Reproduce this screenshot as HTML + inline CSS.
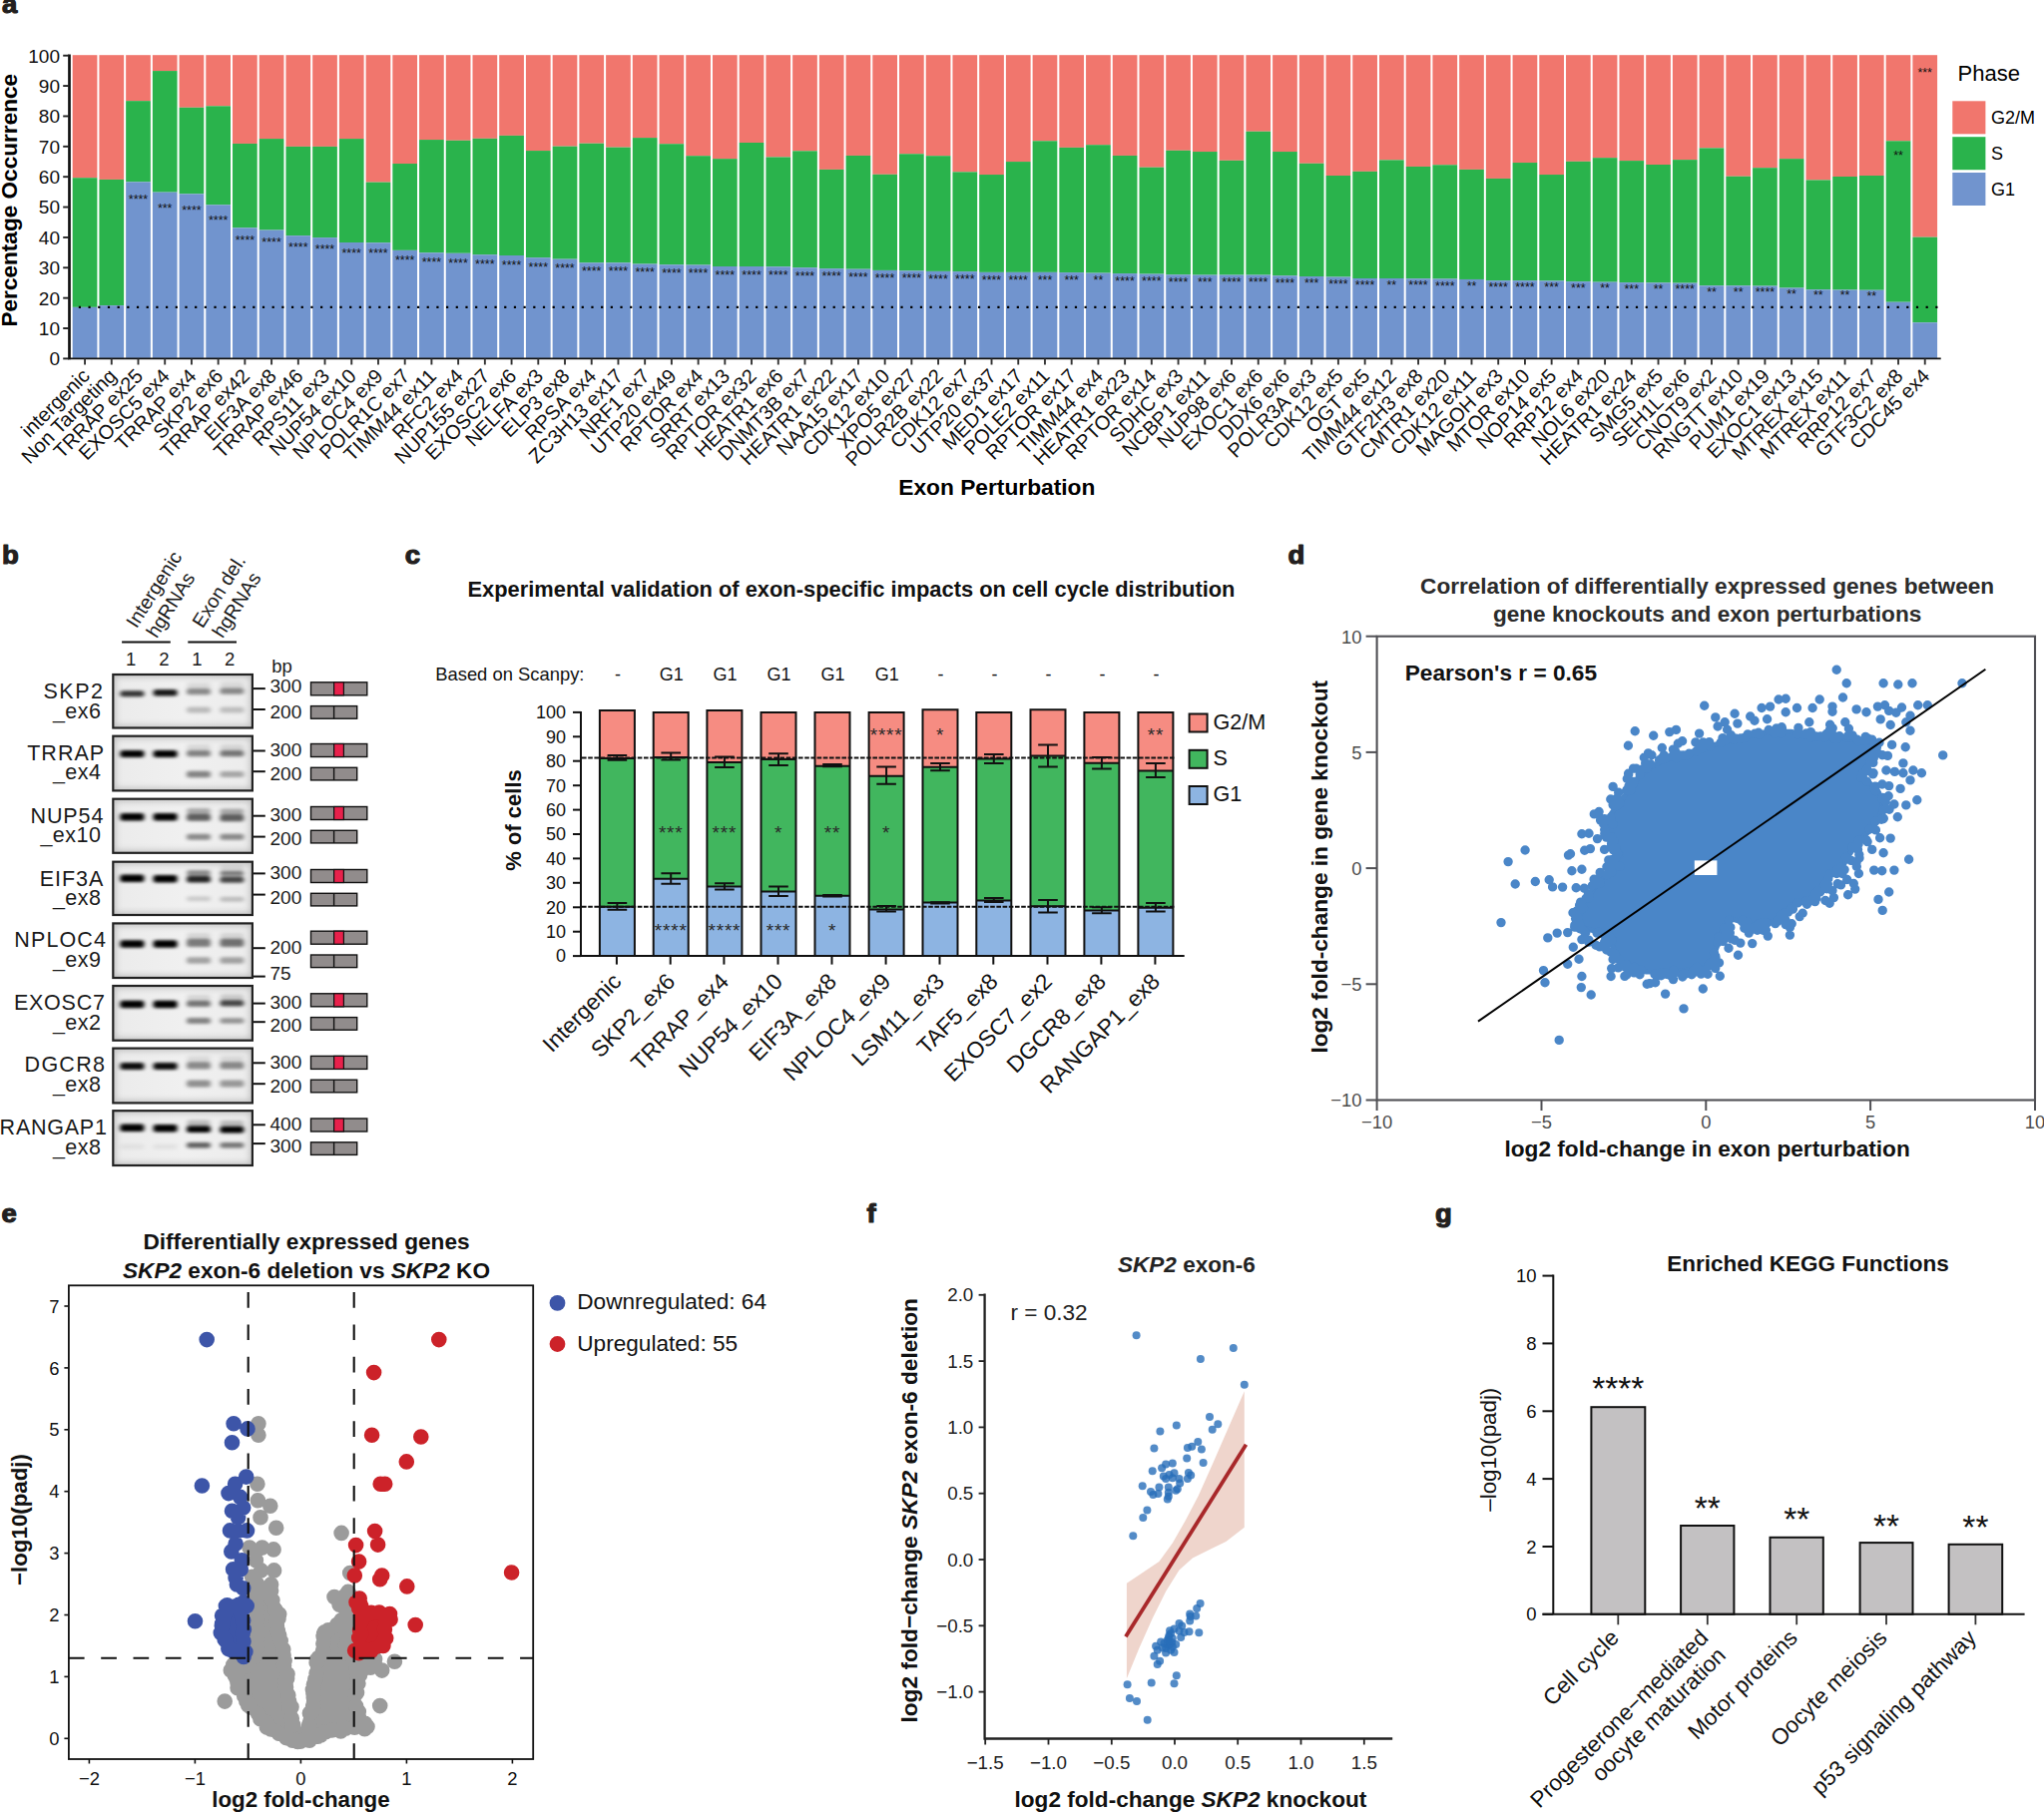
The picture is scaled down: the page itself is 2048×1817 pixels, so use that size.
<!DOCTYPE html>
<html><head><meta charset="utf-8"><title>Figure</title>
<style>
html,body{margin:0;padding:0;background:#fff;overflow:hidden;}
svg{display:block;font-family:"Liberation Sans",sans-serif;}
</style></head><body>
<svg width="2048" height="1817" viewBox="0 0 2048 1817">
<rect width="2048" height="1817" fill="#fff"/>
<g id="pa">
<rect x="72.70" y="55.2" width="24.7" height="123.01" fill="#F1766D"/>
<rect x="72.70" y="178.21" width="24.7" height="129.65" fill="#2AB34C"/>
<rect x="72.70" y="307.86" width="24.7" height="51.04" fill="#7194CE"/>
<rect x="99.42" y="55.2" width="24.7" height="124.72" fill="#F1766D"/>
<rect x="99.42" y="179.92" width="24.7" height="126.22" fill="#2AB34C"/>
<rect x="99.42" y="306.14" width="24.7" height="52.76" fill="#7194CE"/>
<rect x="126.14" y="55.2" width="24.7" height="45.95" fill="#F1766D"/>
<rect x="126.14" y="101.15" width="24.7" height="81.21" fill="#2AB34C"/>
<rect x="126.14" y="182.37" width="24.7" height="176.53" fill="#7194CE"/>
<rect x="152.86" y="55.2" width="24.7" height="15.87" fill="#F1766D"/>
<rect x="152.86" y="71.07" width="24.7" height="121.58" fill="#2AB34C"/>
<rect x="152.86" y="192.64" width="24.7" height="166.26" fill="#7194CE"/>
<rect x="179.58" y="55.2" width="24.7" height="52.56" fill="#F1766D"/>
<rect x="179.58" y="107.76" width="24.7" height="86.59" fill="#2AB34C"/>
<rect x="179.58" y="194.35" width="24.7" height="164.55" fill="#7194CE"/>
<rect x="206.30" y="55.2" width="24.7" height="51.09" fill="#F1766D"/>
<rect x="206.30" y="106.29" width="24.7" height="99.07" fill="#2AB34C"/>
<rect x="206.30" y="205.36" width="24.7" height="153.54" fill="#7194CE"/>
<rect x="233.02" y="55.2" width="24.7" height="88.76" fill="#F1766D"/>
<rect x="233.02" y="143.96" width="24.7" height="84.39" fill="#2AB34C"/>
<rect x="233.02" y="228.36" width="24.7" height="130.54" fill="#7194CE"/>
<rect x="259.74" y="55.2" width="24.7" height="83.87" fill="#F1766D"/>
<rect x="259.74" y="139.07" width="24.7" height="91.49" fill="#2AB34C"/>
<rect x="259.74" y="230.56" width="24.7" height="128.34" fill="#7194CE"/>
<rect x="286.46" y="55.2" width="24.7" height="91.70" fill="#F1766D"/>
<rect x="286.46" y="146.90" width="24.7" height="89.29" fill="#2AB34C"/>
<rect x="286.46" y="236.18" width="24.7" height="122.72" fill="#7194CE"/>
<rect x="313.18" y="55.2" width="24.7" height="91.70" fill="#F1766D"/>
<rect x="313.18" y="146.90" width="24.7" height="91.24" fill="#2AB34C"/>
<rect x="313.18" y="238.14" width="24.7" height="120.76" fill="#7194CE"/>
<rect x="339.90" y="55.2" width="24.7" height="83.87" fill="#F1766D"/>
<rect x="339.90" y="139.07" width="24.7" height="103.96" fill="#2AB34C"/>
<rect x="339.90" y="243.03" width="24.7" height="115.87" fill="#7194CE"/>
<rect x="366.62" y="55.2" width="24.7" height="127.41" fill="#F1766D"/>
<rect x="366.62" y="182.61" width="24.7" height="60.67" fill="#2AB34C"/>
<rect x="366.62" y="243.28" width="24.7" height="115.62" fill="#7194CE"/>
<rect x="393.34" y="55.2" width="24.7" height="108.82" fill="#F1766D"/>
<rect x="393.34" y="164.02" width="24.7" height="86.84" fill="#2AB34C"/>
<rect x="393.34" y="250.86" width="24.7" height="108.04" fill="#7194CE"/>
<rect x="420.06" y="55.2" width="24.7" height="84.85" fill="#F1766D"/>
<rect x="420.06" y="140.05" width="24.7" height="113.26" fill="#2AB34C"/>
<rect x="420.06" y="253.31" width="24.7" height="105.59" fill="#7194CE"/>
<rect x="446.78" y="55.2" width="24.7" height="85.58" fill="#F1766D"/>
<rect x="446.78" y="140.78" width="24.7" height="113.01" fill="#2AB34C"/>
<rect x="446.78" y="253.80" width="24.7" height="105.10" fill="#7194CE"/>
<rect x="473.50" y="55.2" width="24.7" height="83.63" fill="#F1766D"/>
<rect x="473.50" y="138.83" width="24.7" height="116.44" fill="#2AB34C"/>
<rect x="473.50" y="255.26" width="24.7" height="103.64" fill="#7194CE"/>
<rect x="500.22" y="55.2" width="24.7" height="80.69" fill="#F1766D"/>
<rect x="500.22" y="135.89" width="24.7" height="120.11" fill="#2AB34C"/>
<rect x="500.22" y="256.00" width="24.7" height="102.90" fill="#7194CE"/>
<rect x="526.94" y="55.2" width="24.7" height="95.86" fill="#F1766D"/>
<rect x="526.94" y="151.06" width="24.7" height="107.14" fill="#2AB34C"/>
<rect x="526.94" y="258.20" width="24.7" height="100.70" fill="#7194CE"/>
<rect x="553.66" y="55.2" width="24.7" height="91.45" fill="#F1766D"/>
<rect x="553.66" y="146.65" width="24.7" height="113.01" fill="#2AB34C"/>
<rect x="553.66" y="259.67" width="24.7" height="99.23" fill="#7194CE"/>
<rect x="580.38" y="55.2" width="24.7" height="88.52" fill="#F1766D"/>
<rect x="580.38" y="143.72" width="24.7" height="119.62" fill="#2AB34C"/>
<rect x="580.38" y="263.34" width="24.7" height="95.56" fill="#7194CE"/>
<rect x="607.10" y="55.2" width="24.7" height="92.43" fill="#F1766D"/>
<rect x="607.10" y="147.63" width="24.7" height="115.70" fill="#2AB34C"/>
<rect x="607.10" y="263.34" width="24.7" height="95.56" fill="#7194CE"/>
<rect x="633.82" y="55.2" width="24.7" height="82.89" fill="#F1766D"/>
<rect x="633.82" y="138.09" width="24.7" height="126.47" fill="#2AB34C"/>
<rect x="633.82" y="264.56" width="24.7" height="94.34" fill="#7194CE"/>
<rect x="660.54" y="55.2" width="24.7" height="89.01" fill="#F1766D"/>
<rect x="660.54" y="144.21" width="24.7" height="121.09" fill="#2AB34C"/>
<rect x="660.54" y="265.29" width="24.7" height="93.61" fill="#7194CE"/>
<rect x="687.26" y="55.2" width="24.7" height="100.99" fill="#F1766D"/>
<rect x="687.26" y="156.19" width="24.7" height="109.34" fill="#2AB34C"/>
<rect x="687.26" y="265.54" width="24.7" height="93.36" fill="#7194CE"/>
<rect x="713.98" y="55.2" width="24.7" height="103.93" fill="#F1766D"/>
<rect x="713.98" y="159.13" width="24.7" height="107.88" fill="#2AB34C"/>
<rect x="713.98" y="267.01" width="24.7" height="91.89" fill="#7194CE"/>
<rect x="740.70" y="55.2" width="24.7" height="87.78" fill="#F1766D"/>
<rect x="740.70" y="142.98" width="24.7" height="124.02" fill="#2AB34C"/>
<rect x="740.70" y="267.01" width="24.7" height="91.89" fill="#7194CE"/>
<rect x="767.42" y="55.2" width="24.7" height="102.22" fill="#F1766D"/>
<rect x="767.42" y="157.42" width="24.7" height="109.83" fill="#2AB34C"/>
<rect x="767.42" y="267.25" width="24.7" height="91.65" fill="#7194CE"/>
<rect x="794.14" y="55.2" width="24.7" height="96.10" fill="#F1766D"/>
<rect x="794.14" y="151.30" width="24.7" height="116.93" fill="#2AB34C"/>
<rect x="794.14" y="268.23" width="24.7" height="90.67" fill="#7194CE"/>
<rect x="820.86" y="55.2" width="24.7" height="114.69" fill="#F1766D"/>
<rect x="820.86" y="169.89" width="24.7" height="99.32" fill="#2AB34C"/>
<rect x="820.86" y="269.21" width="24.7" height="89.69" fill="#7194CE"/>
<rect x="847.58" y="55.2" width="24.7" height="100.75" fill="#F1766D"/>
<rect x="847.58" y="155.95" width="24.7" height="113.75" fill="#2AB34C"/>
<rect x="847.58" y="269.70" width="24.7" height="89.20" fill="#7194CE"/>
<rect x="874.30" y="55.2" width="24.7" height="119.58" fill="#F1766D"/>
<rect x="874.30" y="174.78" width="24.7" height="96.14" fill="#2AB34C"/>
<rect x="874.30" y="270.92" width="24.7" height="87.98" fill="#7194CE"/>
<rect x="901.02" y="55.2" width="24.7" height="99.04" fill="#F1766D"/>
<rect x="901.02" y="154.24" width="24.7" height="117.17" fill="#2AB34C"/>
<rect x="901.02" y="271.41" width="24.7" height="87.49" fill="#7194CE"/>
<rect x="927.74" y="55.2" width="24.7" height="100.99" fill="#F1766D"/>
<rect x="927.74" y="156.19" width="24.7" height="115.70" fill="#2AB34C"/>
<rect x="927.74" y="271.90" width="24.7" height="87.00" fill="#7194CE"/>
<rect x="954.46" y="55.2" width="24.7" height="117.14" fill="#F1766D"/>
<rect x="954.46" y="172.34" width="24.7" height="99.80" fill="#2AB34C"/>
<rect x="954.46" y="272.14" width="24.7" height="86.76" fill="#7194CE"/>
<rect x="981.18" y="55.2" width="24.7" height="119.83" fill="#F1766D"/>
<rect x="981.18" y="175.03" width="24.7" height="97.85" fill="#2AB34C"/>
<rect x="981.18" y="272.88" width="24.7" height="86.02" fill="#7194CE"/>
<rect x="1007.90" y="55.2" width="24.7" height="106.86" fill="#F1766D"/>
<rect x="1007.90" y="162.06" width="24.7" height="110.81" fill="#2AB34C"/>
<rect x="1007.90" y="272.88" width="24.7" height="86.02" fill="#7194CE"/>
<rect x="1034.62" y="55.2" width="24.7" height="86.07" fill="#F1766D"/>
<rect x="1034.62" y="141.27" width="24.7" height="131.60" fill="#2AB34C"/>
<rect x="1034.62" y="272.88" width="24.7" height="86.02" fill="#7194CE"/>
<rect x="1061.34" y="55.2" width="24.7" height="92.68" fill="#F1766D"/>
<rect x="1061.34" y="147.88" width="24.7" height="125.24" fill="#2AB34C"/>
<rect x="1061.34" y="273.12" width="24.7" height="85.78" fill="#7194CE"/>
<rect x="1088.06" y="55.2" width="24.7" height="89.99" fill="#F1766D"/>
<rect x="1088.06" y="145.19" width="24.7" height="128.42" fill="#2AB34C"/>
<rect x="1088.06" y="273.61" width="24.7" height="85.29" fill="#7194CE"/>
<rect x="1114.78" y="55.2" width="24.7" height="100.75" fill="#F1766D"/>
<rect x="1114.78" y="155.95" width="24.7" height="118.15" fill="#2AB34C"/>
<rect x="1114.78" y="274.10" width="24.7" height="84.80" fill="#7194CE"/>
<rect x="1141.50" y="55.2" width="24.7" height="112.49" fill="#F1766D"/>
<rect x="1141.50" y="167.69" width="24.7" height="106.90" fill="#2AB34C"/>
<rect x="1141.50" y="274.59" width="24.7" height="84.31" fill="#7194CE"/>
<rect x="1168.22" y="55.2" width="24.7" height="95.61" fill="#F1766D"/>
<rect x="1168.22" y="150.81" width="24.7" height="124.51" fill="#2AB34C"/>
<rect x="1168.22" y="275.32" width="24.7" height="83.58" fill="#7194CE"/>
<rect x="1194.94" y="55.2" width="24.7" height="96.84" fill="#F1766D"/>
<rect x="1194.94" y="152.04" width="24.7" height="123.53" fill="#2AB34C"/>
<rect x="1194.94" y="275.57" width="24.7" height="83.33" fill="#7194CE"/>
<rect x="1221.66" y="55.2" width="24.7" height="105.64" fill="#F1766D"/>
<rect x="1221.66" y="160.84" width="24.7" height="114.73" fill="#2AB34C"/>
<rect x="1221.66" y="275.57" width="24.7" height="83.33" fill="#7194CE"/>
<rect x="1248.38" y="55.2" width="24.7" height="76.53" fill="#F1766D"/>
<rect x="1248.38" y="131.73" width="24.7" height="143.84" fill="#2AB34C"/>
<rect x="1248.38" y="275.57" width="24.7" height="83.33" fill="#7194CE"/>
<rect x="1275.10" y="55.2" width="24.7" height="96.84" fill="#F1766D"/>
<rect x="1275.10" y="152.04" width="24.7" height="124.27" fill="#2AB34C"/>
<rect x="1275.10" y="276.30" width="24.7" height="82.60" fill="#7194CE"/>
<rect x="1301.82" y="55.2" width="24.7" height="108.58" fill="#F1766D"/>
<rect x="1301.82" y="163.78" width="24.7" height="113.26" fill="#2AB34C"/>
<rect x="1301.82" y="277.04" width="24.7" height="81.86" fill="#7194CE"/>
<rect x="1328.54" y="55.2" width="24.7" height="120.81" fill="#F1766D"/>
<rect x="1328.54" y="176.01" width="24.7" height="101.52" fill="#2AB34C"/>
<rect x="1328.54" y="277.52" width="24.7" height="81.38" fill="#7194CE"/>
<rect x="1355.26" y="55.2" width="24.7" height="116.65" fill="#F1766D"/>
<rect x="1355.26" y="171.85" width="24.7" height="107.14" fill="#2AB34C"/>
<rect x="1355.26" y="278.99" width="24.7" height="79.91" fill="#7194CE"/>
<rect x="1381.98" y="55.2" width="24.7" height="105.15" fill="#F1766D"/>
<rect x="1381.98" y="160.35" width="24.7" height="118.64" fill="#2AB34C"/>
<rect x="1381.98" y="278.99" width="24.7" height="79.91" fill="#7194CE"/>
<rect x="1408.70" y="55.2" width="24.7" height="111.76" fill="#F1766D"/>
<rect x="1408.70" y="166.96" width="24.7" height="112.28" fill="#2AB34C"/>
<rect x="1408.70" y="279.24" width="24.7" height="79.66" fill="#7194CE"/>
<rect x="1435.42" y="55.2" width="24.7" height="110.04" fill="#F1766D"/>
<rect x="1435.42" y="165.24" width="24.7" height="114.24" fill="#2AB34C"/>
<rect x="1435.42" y="279.48" width="24.7" height="79.42" fill="#7194CE"/>
<rect x="1462.14" y="55.2" width="24.7" height="114.69" fill="#F1766D"/>
<rect x="1462.14" y="169.89" width="24.7" height="110.08" fill="#2AB34C"/>
<rect x="1462.14" y="279.97" width="24.7" height="78.93" fill="#7194CE"/>
<rect x="1488.86" y="55.2" width="24.7" height="123.74" fill="#F1766D"/>
<rect x="1488.86" y="178.94" width="24.7" height="102.25" fill="#2AB34C"/>
<rect x="1488.86" y="281.19" width="24.7" height="77.71" fill="#7194CE"/>
<rect x="1515.58" y="55.2" width="24.7" height="107.84" fill="#F1766D"/>
<rect x="1515.58" y="163.04" width="24.7" height="118.15" fill="#2AB34C"/>
<rect x="1515.58" y="281.19" width="24.7" height="77.71" fill="#7194CE"/>
<rect x="1542.30" y="55.2" width="24.7" height="119.83" fill="#F1766D"/>
<rect x="1542.30" y="175.03" width="24.7" height="106.41" fill="#2AB34C"/>
<rect x="1542.30" y="281.44" width="24.7" height="77.46" fill="#7194CE"/>
<rect x="1569.02" y="55.2" width="24.7" height="106.62" fill="#F1766D"/>
<rect x="1569.02" y="161.82" width="24.7" height="120.35" fill="#2AB34C"/>
<rect x="1569.02" y="282.17" width="24.7" height="76.73" fill="#7194CE"/>
<rect x="1595.74" y="55.2" width="24.7" height="102.95" fill="#F1766D"/>
<rect x="1595.74" y="158.15" width="24.7" height="124.51" fill="#2AB34C"/>
<rect x="1595.74" y="282.66" width="24.7" height="76.24" fill="#7194CE"/>
<rect x="1622.46" y="55.2" width="24.7" height="105.89" fill="#F1766D"/>
<rect x="1622.46" y="161.09" width="24.7" height="122.06" fill="#2AB34C"/>
<rect x="1622.46" y="283.15" width="24.7" height="75.75" fill="#7194CE"/>
<rect x="1649.18" y="55.2" width="24.7" height="109.80" fill="#F1766D"/>
<rect x="1649.18" y="165.00" width="24.7" height="118.40" fill="#2AB34C"/>
<rect x="1649.18" y="283.40" width="24.7" height="75.50" fill="#7194CE"/>
<rect x="1675.90" y="55.2" width="24.7" height="104.91" fill="#F1766D"/>
<rect x="1675.90" y="160.11" width="24.7" height="123.53" fill="#2AB34C"/>
<rect x="1675.90" y="283.64" width="24.7" height="75.26" fill="#7194CE"/>
<rect x="1702.62" y="55.2" width="24.7" height="93.17" fill="#F1766D"/>
<rect x="1702.62" y="148.37" width="24.7" height="137.96" fill="#2AB34C"/>
<rect x="1702.62" y="286.33" width="24.7" height="72.57" fill="#7194CE"/>
<rect x="1729.34" y="55.2" width="24.7" height="121.54" fill="#F1766D"/>
<rect x="1729.34" y="176.74" width="24.7" height="109.59" fill="#2AB34C"/>
<rect x="1729.34" y="286.33" width="24.7" height="72.57" fill="#7194CE"/>
<rect x="1756.06" y="55.2" width="24.7" height="112.98" fill="#F1766D"/>
<rect x="1756.06" y="168.18" width="24.7" height="118.40" fill="#2AB34C"/>
<rect x="1756.06" y="286.58" width="24.7" height="72.32" fill="#7194CE"/>
<rect x="1782.78" y="55.2" width="24.7" height="103.93" fill="#F1766D"/>
<rect x="1782.78" y="159.13" width="24.7" height="129.40" fill="#2AB34C"/>
<rect x="1782.78" y="288.53" width="24.7" height="70.37" fill="#7194CE"/>
<rect x="1809.50" y="55.2" width="24.7" height="125.21" fill="#F1766D"/>
<rect x="1809.50" y="180.41" width="24.7" height="109.83" fill="#2AB34C"/>
<rect x="1809.50" y="290.24" width="24.7" height="68.66" fill="#7194CE"/>
<rect x="1836.22" y="55.2" width="24.7" height="121.79" fill="#F1766D"/>
<rect x="1836.22" y="176.99" width="24.7" height="113.50" fill="#2AB34C"/>
<rect x="1836.22" y="290.49" width="24.7" height="68.41" fill="#7194CE"/>
<rect x="1862.94" y="55.2" width="24.7" height="120.81" fill="#F1766D"/>
<rect x="1862.94" y="176.01" width="24.7" height="114.73" fill="#2AB34C"/>
<rect x="1862.94" y="290.73" width="24.7" height="68.17" fill="#7194CE"/>
<rect x="1889.66" y="55.2" width="24.7" height="86.07" fill="#F1766D"/>
<rect x="1889.66" y="141.27" width="24.7" height="161.45" fill="#2AB34C"/>
<rect x="1889.66" y="302.72" width="24.7" height="56.18" fill="#7194CE"/>
<rect x="1916.38" y="55.2" width="24.7" height="182.45" fill="#F1766D"/>
<rect x="1916.38" y="237.65" width="24.7" height="85.62" fill="#2AB34C"/>
<rect x="1916.38" y="323.27" width="24.7" height="35.63" fill="#7194CE"/>
<g font-size="12.5" text-anchor="middle" fill="#111">
<text x="138.5" y="204.0">****</text>
<text x="165.2" y="213.2">***</text>
<text x="191.9" y="214.7">****</text>
<text x="218.7" y="224.5">****</text>
<text x="245.4" y="245.0">****</text>
<text x="272.1" y="247.0">****</text>
<text x="298.8" y="252.0">****</text>
<text x="325.5" y="253.8">****</text>
<text x="352.2" y="258.1">****</text>
<text x="379.0" y="258.3">****</text>
<text x="405.7" y="265.1">****</text>
<text x="432.4" y="267.3">****</text>
<text x="459.1" y="267.7">****</text>
<text x="485.8" y="269.0">****</text>
<text x="512.6" y="269.7">****</text>
<text x="539.3" y="271.6">****</text>
<text x="566.0" y="272.9">****</text>
<text x="592.7" y="276.2">****</text>
<text x="619.5" y="276.2">****</text>
<text x="646.2" y="277.3">****</text>
<text x="672.9" y="278.0">****</text>
<text x="699.6" y="278.2">****</text>
<text x="726.3" y="279.5">****</text>
<text x="753.1" y="279.5">****</text>
<text x="779.8" y="279.7">****</text>
<text x="806.5" y="280.6">****</text>
<text x="833.2" y="281.4">****</text>
<text x="859.9" y="281.9">****</text>
<text x="886.6" y="283.0">****</text>
<text x="913.4" y="283.4">****</text>
<text x="940.1" y="283.8">****</text>
<text x="966.8" y="284.1">****</text>
<text x="993.5" y="284.7">****</text>
<text x="1020.2" y="284.7">****</text>
<text x="1047.0" y="284.7">***</text>
<text x="1073.7" y="284.9">***</text>
<text x="1100.4" y="285.4">**</text>
<text x="1127.1" y="285.8">****</text>
<text x="1153.8" y="286.2">****</text>
<text x="1180.6" y="286.9">****</text>
<text x="1207.3" y="287.1">***</text>
<text x="1234.0" y="287.1">****</text>
<text x="1260.7" y="287.1">****</text>
<text x="1287.4" y="287.8">****</text>
<text x="1314.2" y="288.4">***</text>
<text x="1340.9" y="288.9">****</text>
<text x="1367.6" y="290.2">****</text>
<text x="1394.3" y="290.2">**</text>
<text x="1421.0" y="290.4">****</text>
<text x="1447.8" y="290.6">****</text>
<text x="1474.5" y="291.0">**</text>
<text x="1501.2" y="292.1">****</text>
<text x="1527.9" y="292.1">****</text>
<text x="1554.6" y="292.3">***</text>
<text x="1581.4" y="293.0">***</text>
<text x="1608.1" y="293.4">**</text>
<text x="1634.8" y="293.9">***</text>
<text x="1661.5" y="294.1">**</text>
<text x="1688.2" y="294.3">****</text>
<text x="1715.0" y="296.7">**</text>
<text x="1741.7" y="296.7">**</text>
<text x="1768.4" y="296.9">****</text>
<text x="1795.1" y="298.7">**</text>
<text x="1821.8" y="300.2">**</text>
<text x="1848.6" y="300.4">**</text>
<text x="1875.3" y="300.6">**</text>
<text x="1902.0" y="160.3">**</text>
<text x="1928.7" y="76.5">***</text>
</g>
<line x1="78.8" y1="307.9" x2="1942" y2="307.9" stroke="#000" stroke-width="2.2" stroke-dasharray="2.2 7.49"/>
<line x1="69.5" y1="54.6" x2="69.5" y2="360.3" stroke="#111" stroke-width="2.7"/>
<line x1="68.2" y1="359.4" x2="1944.7" y2="359.4" stroke="#111" stroke-width="1.8"/>
<g stroke="#222" stroke-width="1.9">
<line x1="63.2" y1="359.40" x2="69" y2="359.40"/>
<line x1="63.2" y1="329.03" x2="69" y2="329.03"/>
<line x1="63.2" y1="298.66" x2="69" y2="298.66"/>
<line x1="63.2" y1="268.29" x2="69" y2="268.29"/>
<line x1="63.2" y1="237.92" x2="69" y2="237.92"/>
<line x1="63.2" y1="207.55" x2="69" y2="207.55"/>
<line x1="63.2" y1="177.18" x2="69" y2="177.18"/>
<line x1="63.2" y1="146.81" x2="69" y2="146.81"/>
<line x1="63.2" y1="116.44" x2="69" y2="116.44"/>
<line x1="63.2" y1="86.07" x2="69" y2="86.07"/>
<line x1="63.2" y1="55.70" x2="69" y2="55.70"/>
<line x1="85.05" y1="359.5" x2="85.05" y2="365.5" stroke-width="1.9" stroke="#333"/>
<line x1="111.77" y1="359.5" x2="111.77" y2="365.5" stroke-width="1.9" stroke="#333"/>
<line x1="138.49" y1="359.5" x2="138.49" y2="365.5" stroke-width="1.9" stroke="#333"/>
<line x1="165.21" y1="359.5" x2="165.21" y2="365.5" stroke-width="1.9" stroke="#333"/>
<line x1="191.93" y1="359.5" x2="191.93" y2="365.5" stroke-width="1.9" stroke="#333"/>
<line x1="218.65" y1="359.5" x2="218.65" y2="365.5" stroke-width="1.9" stroke="#333"/>
<line x1="245.37" y1="359.5" x2="245.37" y2="365.5" stroke-width="1.9" stroke="#333"/>
<line x1="272.09" y1="359.5" x2="272.09" y2="365.5" stroke-width="1.9" stroke="#333"/>
<line x1="298.81" y1="359.5" x2="298.81" y2="365.5" stroke-width="1.9" stroke="#333"/>
<line x1="325.53" y1="359.5" x2="325.53" y2="365.5" stroke-width="1.9" stroke="#333"/>
<line x1="352.25" y1="359.5" x2="352.25" y2="365.5" stroke-width="1.9" stroke="#333"/>
<line x1="378.97" y1="359.5" x2="378.97" y2="365.5" stroke-width="1.9" stroke="#333"/>
<line x1="405.69" y1="359.5" x2="405.69" y2="365.5" stroke-width="1.9" stroke="#333"/>
<line x1="432.41" y1="359.5" x2="432.41" y2="365.5" stroke-width="1.9" stroke="#333"/>
<line x1="459.13" y1="359.5" x2="459.13" y2="365.5" stroke-width="1.9" stroke="#333"/>
<line x1="485.85" y1="359.5" x2="485.85" y2="365.5" stroke-width="1.9" stroke="#333"/>
<line x1="512.57" y1="359.5" x2="512.57" y2="365.5" stroke-width="1.9" stroke="#333"/>
<line x1="539.29" y1="359.5" x2="539.29" y2="365.5" stroke-width="1.9" stroke="#333"/>
<line x1="566.01" y1="359.5" x2="566.01" y2="365.5" stroke-width="1.9" stroke="#333"/>
<line x1="592.73" y1="359.5" x2="592.73" y2="365.5" stroke-width="1.9" stroke="#333"/>
<line x1="619.45" y1="359.5" x2="619.45" y2="365.5" stroke-width="1.9" stroke="#333"/>
<line x1="646.17" y1="359.5" x2="646.17" y2="365.5" stroke-width="1.9" stroke="#333"/>
<line x1="672.89" y1="359.5" x2="672.89" y2="365.5" stroke-width="1.9" stroke="#333"/>
<line x1="699.61" y1="359.5" x2="699.61" y2="365.5" stroke-width="1.9" stroke="#333"/>
<line x1="726.33" y1="359.5" x2="726.33" y2="365.5" stroke-width="1.9" stroke="#333"/>
<line x1="753.05" y1="359.5" x2="753.05" y2="365.5" stroke-width="1.9" stroke="#333"/>
<line x1="779.77" y1="359.5" x2="779.77" y2="365.5" stroke-width="1.9" stroke="#333"/>
<line x1="806.49" y1="359.5" x2="806.49" y2="365.5" stroke-width="1.9" stroke="#333"/>
<line x1="833.21" y1="359.5" x2="833.21" y2="365.5" stroke-width="1.9" stroke="#333"/>
<line x1="859.93" y1="359.5" x2="859.93" y2="365.5" stroke-width="1.9" stroke="#333"/>
<line x1="886.65" y1="359.5" x2="886.65" y2="365.5" stroke-width="1.9" stroke="#333"/>
<line x1="913.37" y1="359.5" x2="913.37" y2="365.5" stroke-width="1.9" stroke="#333"/>
<line x1="940.09" y1="359.5" x2="940.09" y2="365.5" stroke-width="1.9" stroke="#333"/>
<line x1="966.81" y1="359.5" x2="966.81" y2="365.5" stroke-width="1.9" stroke="#333"/>
<line x1="993.53" y1="359.5" x2="993.53" y2="365.5" stroke-width="1.9" stroke="#333"/>
<line x1="1020.25" y1="359.5" x2="1020.25" y2="365.5" stroke-width="1.9" stroke="#333"/>
<line x1="1046.97" y1="359.5" x2="1046.97" y2="365.5" stroke-width="1.9" stroke="#333"/>
<line x1="1073.69" y1="359.5" x2="1073.69" y2="365.5" stroke-width="1.9" stroke="#333"/>
<line x1="1100.41" y1="359.5" x2="1100.41" y2="365.5" stroke-width="1.9" stroke="#333"/>
<line x1="1127.13" y1="359.5" x2="1127.13" y2="365.5" stroke-width="1.9" stroke="#333"/>
<line x1="1153.85" y1="359.5" x2="1153.85" y2="365.5" stroke-width="1.9" stroke="#333"/>
<line x1="1180.57" y1="359.5" x2="1180.57" y2="365.5" stroke-width="1.9" stroke="#333"/>
<line x1="1207.29" y1="359.5" x2="1207.29" y2="365.5" stroke-width="1.9" stroke="#333"/>
<line x1="1234.01" y1="359.5" x2="1234.01" y2="365.5" stroke-width="1.9" stroke="#333"/>
<line x1="1260.73" y1="359.5" x2="1260.73" y2="365.5" stroke-width="1.9" stroke="#333"/>
<line x1="1287.45" y1="359.5" x2="1287.45" y2="365.5" stroke-width="1.9" stroke="#333"/>
<line x1="1314.17" y1="359.5" x2="1314.17" y2="365.5" stroke-width="1.9" stroke="#333"/>
<line x1="1340.89" y1="359.5" x2="1340.89" y2="365.5" stroke-width="1.9" stroke="#333"/>
<line x1="1367.61" y1="359.5" x2="1367.61" y2="365.5" stroke-width="1.9" stroke="#333"/>
<line x1="1394.33" y1="359.5" x2="1394.33" y2="365.5" stroke-width="1.9" stroke="#333"/>
<line x1="1421.05" y1="359.5" x2="1421.05" y2="365.5" stroke-width="1.9" stroke="#333"/>
<line x1="1447.77" y1="359.5" x2="1447.77" y2="365.5" stroke-width="1.9" stroke="#333"/>
<line x1="1474.49" y1="359.5" x2="1474.49" y2="365.5" stroke-width="1.9" stroke="#333"/>
<line x1="1501.21" y1="359.5" x2="1501.21" y2="365.5" stroke-width="1.9" stroke="#333"/>
<line x1="1527.93" y1="359.5" x2="1527.93" y2="365.5" stroke-width="1.9" stroke="#333"/>
<line x1="1554.65" y1="359.5" x2="1554.65" y2="365.5" stroke-width="1.9" stroke="#333"/>
<line x1="1581.37" y1="359.5" x2="1581.37" y2="365.5" stroke-width="1.9" stroke="#333"/>
<line x1="1608.09" y1="359.5" x2="1608.09" y2="365.5" stroke-width="1.9" stroke="#333"/>
<line x1="1634.81" y1="359.5" x2="1634.81" y2="365.5" stroke-width="1.9" stroke="#333"/>
<line x1="1661.53" y1="359.5" x2="1661.53" y2="365.5" stroke-width="1.9" stroke="#333"/>
<line x1="1688.25" y1="359.5" x2="1688.25" y2="365.5" stroke-width="1.9" stroke="#333"/>
<line x1="1714.97" y1="359.5" x2="1714.97" y2="365.5" stroke-width="1.9" stroke="#333"/>
<line x1="1741.69" y1="359.5" x2="1741.69" y2="365.5" stroke-width="1.9" stroke="#333"/>
<line x1="1768.41" y1="359.5" x2="1768.41" y2="365.5" stroke-width="1.9" stroke="#333"/>
<line x1="1795.13" y1="359.5" x2="1795.13" y2="365.5" stroke-width="1.9" stroke="#333"/>
<line x1="1821.85" y1="359.5" x2="1821.85" y2="365.5" stroke-width="1.9" stroke="#333"/>
<line x1="1848.57" y1="359.5" x2="1848.57" y2="365.5" stroke-width="1.9" stroke="#333"/>
<line x1="1875.29" y1="359.5" x2="1875.29" y2="365.5" stroke-width="1.9" stroke="#333"/>
<line x1="1902.01" y1="359.5" x2="1902.01" y2="365.5" stroke-width="1.9" stroke="#333"/>
<line x1="1928.73" y1="359.5" x2="1928.73" y2="365.5" stroke-width="1.9" stroke="#333"/>
</g>
<g font-size="19" text-anchor="end" fill="#111">
<text x="60" y="366.2">0</text>
<text x="60" y="335.8">10</text>
<text x="60" y="305.5">20</text>
<text x="60" y="275.1">30</text>
<text x="60" y="244.7">40</text>
<text x="60" y="214.3">50</text>
<text x="60" y="184.0">60</text>
<text x="60" y="153.6">70</text>
<text x="60" y="123.2">80</text>
<text x="60" y="92.9">90</text>
<text x="60" y="62.5">100</text>
</g>
<g font-size="20.05" text-anchor="end" fill="#111">
<text transform="translate(91.0,378) rotate(-45)">intergenic</text>
<text transform="translate(117.8,378) rotate(-45)">Non Targeting</text>
<text transform="translate(144.5,378) rotate(-45)">TRRAP ex25</text>
<text transform="translate(171.2,378) rotate(-45)">EXOSC5 ex4</text>
<text transform="translate(197.9,378) rotate(-45)">TRRAP ex4</text>
<text transform="translate(224.7,378) rotate(-45)">SKP2 ex6</text>
<text transform="translate(251.4,378) rotate(-45)">TRRAP ex42</text>
<text transform="translate(278.1,378) rotate(-45)">EIF3A ex8</text>
<text transform="translate(304.8,378) rotate(-45)">TRRAP ex46</text>
<text transform="translate(331.5,378) rotate(-45)">RPS11 ex3</text>
<text transform="translate(358.2,378) rotate(-45)">NUP54 ex10</text>
<text transform="translate(385.0,378) rotate(-45)">NPLOC4 ex9</text>
<text transform="translate(411.7,378) rotate(-45)">POLR1C ex7</text>
<text transform="translate(438.4,378) rotate(-45)">TIMM44 ex11</text>
<text transform="translate(465.1,378) rotate(-45)">RFC2 ex4</text>
<text transform="translate(491.8,378) rotate(-45)">NUP155 ex27</text>
<text transform="translate(518.6,378) rotate(-45)">EXOSC2 ex6</text>
<text transform="translate(545.3,378) rotate(-45)">NELFA ex3</text>
<text transform="translate(572.0,378) rotate(-45)">ELP3 ex8</text>
<text transform="translate(598.7,378) rotate(-45)">RPSA ex4</text>
<text transform="translate(625.5,378) rotate(-45)">ZC3H13 ex17</text>
<text transform="translate(652.2,378) rotate(-45)">NRF1 ex7</text>
<text transform="translate(678.9,378) rotate(-45)">UTP20 ex49</text>
<text transform="translate(705.6,378) rotate(-45)">RPTOR ex4</text>
<text transform="translate(732.3,378) rotate(-45)">SRRT ex13</text>
<text transform="translate(759.1,378) rotate(-45)">RPTOR ex32</text>
<text transform="translate(785.8,378) rotate(-45)">HEATR1 ex6</text>
<text transform="translate(812.5,378) rotate(-45)">DNMT3B ex7</text>
<text transform="translate(839.2,378) rotate(-45)">HEATR1 ex22</text>
<text transform="translate(865.9,378) rotate(-45)">NAA15 ex17</text>
<text transform="translate(892.6,378) rotate(-45)">CDK12 ex10</text>
<text transform="translate(919.4,378) rotate(-45)">XPO5 ex27</text>
<text transform="translate(946.1,378) rotate(-45)">POLR2B ex22</text>
<text transform="translate(972.8,378) rotate(-45)">CDK12 ex7</text>
<text transform="translate(999.5,378) rotate(-45)">UTP20 ex37</text>
<text transform="translate(1026.2,378) rotate(-45)">MED1 ex17</text>
<text transform="translate(1053.0,378) rotate(-45)">POLE2 ex11</text>
<text transform="translate(1079.7,378) rotate(-45)">RPTOR ex17</text>
<text transform="translate(1106.4,378) rotate(-45)">TIMM44 ex4</text>
<text transform="translate(1133.1,378) rotate(-45)">HEATR1 ex23</text>
<text transform="translate(1159.8,378) rotate(-45)">RPTOR ex14</text>
<text transform="translate(1186.6,378) rotate(-45)">SDHC ex3</text>
<text transform="translate(1213.3,378) rotate(-45)">NCBP1 ex11</text>
<text transform="translate(1240.0,378) rotate(-45)">NUP98 ex6</text>
<text transform="translate(1266.7,378) rotate(-45)">EXOC1 ex6</text>
<text transform="translate(1293.4,378) rotate(-45)">DDX6 ex6</text>
<text transform="translate(1320.2,378) rotate(-45)">POLR3A ex3</text>
<text transform="translate(1346.9,378) rotate(-45)">CDK12 ex5</text>
<text transform="translate(1373.6,378) rotate(-45)">OGT ex5</text>
<text transform="translate(1400.3,378) rotate(-45)">TIMM44 ex12</text>
<text transform="translate(1427.0,378) rotate(-45)">GTF2H3 ex8</text>
<text transform="translate(1453.8,378) rotate(-45)">CMTR1 ex20</text>
<text transform="translate(1480.5,378) rotate(-45)">CDK12 ex11</text>
<text transform="translate(1507.2,378) rotate(-45)">MAGOH ex3</text>
<text transform="translate(1533.9,378) rotate(-45)">MTOR ex10</text>
<text transform="translate(1560.6,378) rotate(-45)">NOP14 ex5</text>
<text transform="translate(1587.4,378) rotate(-45)">RRP12 ex4</text>
<text transform="translate(1614.1,378) rotate(-45)">NOL6 ex20</text>
<text transform="translate(1640.8,378) rotate(-45)">HEATR1 ex24</text>
<text transform="translate(1667.5,378) rotate(-45)">SMG5 ex5</text>
<text transform="translate(1694.2,378) rotate(-45)">SEH1L ex6</text>
<text transform="translate(1721.0,378) rotate(-45)">CNOT9 ex2</text>
<text transform="translate(1747.7,378) rotate(-45)">RNGTT ex10</text>
<text transform="translate(1774.4,378) rotate(-45)">PUM1 ex19</text>
<text transform="translate(1801.1,378) rotate(-45)">EXOC1 ex13</text>
<text transform="translate(1827.8,378) rotate(-45)">MTREX ex15</text>
<text transform="translate(1854.6,378) rotate(-45)">MTREX ex11</text>
<text transform="translate(1881.3,378) rotate(-45)">RRP12 ex7</text>
<text transform="translate(1908.0,378) rotate(-45)">GTF3C2 ex8</text>
<text transform="translate(1934.7,378) rotate(-45)">CDC45 ex4</text>
</g>
<text transform="translate(16.5,200.7) rotate(-90)" text-anchor="middle" font-size="22.6" font-weight="bold">Percentage Occurrence</text>
<text x="998.8" y="495.5" text-anchor="middle" font-size="22.75" font-weight="bold">Exon Perturbation</text>
<text x="1961.5" y="81.1" font-size="22">Phase</text>
<rect x="1956.3" y="101.3" width="33.1" height="33" fill="#F1766D"/>
<text x="1995" y="123.9" font-size="18">G2/M</text>
<rect x="1956.3" y="137.2" width="33.1" height="33" fill="#2AB34C"/>
<text x="1995" y="159.8" font-size="18">S</text>
<rect x="1956.3" y="173.0" width="33.1" height="33" fill="#7194CE"/>
<text x="1995" y="195.6" font-size="18">G1</text>
</g>
<g id="pb">
<defs><filter id="blr" x="-20%" y="-80%" width="140%" height="260%"><feGaussianBlur stdDeviation="1.9 1.6"/></filter><filter id="blr2" x="-10%" y="-20%" width="120%" height="140%"><feGaussianBlur stdDeviation="3"/></filter><linearGradient id="gelbg" x1="0" y1="0" x2="1" y2="0"><stop offset="0" stop-color="#ebebeb"/><stop offset="0.5" stop-color="#f0f0f0"/><stop offset="1" stop-color="#ececec"/></linearGradient></defs>
<svg x="113.3" y="676.0" width="139.6" height="53.5">
<rect x="0" y="0" width="139.6" height="53.5" fill="url(#gelbg)"/>
<rect x="-1" y="-1" width="141.6" height="55.5" fill="none" stroke="#000" stroke-opacity="0.2" stroke-width="7" filter="url(#blr2)"/>
<g filter="url(#blr)">
<rect x="7.1" y="16.3" width="24" height="6" rx="2.5" fill="#000" opacity="0.78"/>
<rect x="40.3" y="15.1" width="24" height="6.5" rx="2.5" fill="#000" opacity="0.9"/>
<rect x="74.2" y="8.3" width="23" height="8" rx="2" fill="#000" opacity="0.09"/>
<rect x="73.7" y="14.3" width="24" height="6" rx="2.5" fill="#000" opacity="0.42"/>
<rect x="107.6" y="7.8" width="23" height="8" rx="2" fill="#000" opacity="0.09"/>
<rect x="107.1" y="13.8" width="24" height="6" rx="2.5" fill="#000" opacity="0.42"/>
<rect x="73.7" y="32.5" width="24" height="6" rx="2.5" fill="#000" opacity="0.22"/>
<rect x="107.1" y="32.5" width="24" height="6" rx="2.5" fill="#000" opacity="0.2"/>
</g>
</svg>
<rect x="113.3" y="676.0" width="139.6" height="53.5" fill="none" stroke="#222" stroke-width="2.2"/>
<text x="43.4" y="699.8" textLength="59.6" lengthAdjust="spacing" font-size="21.5" fill="#1a1a1a">SKP2</text>
<text x="101.5" y="719.6" text-anchor="end" font-size="21.5" letter-spacing="0.5" fill="#1a1a1a">_ex6</text>
<line x1="253.8" y1="690.1" x2="265.8" y2="690.1" stroke="#111" stroke-width="2"/>
<text x="270.4" y="694.4" font-size="19.1" fill="#1a1a1a">300</text>
<line x1="253.8" y1="711.0" x2="265.8" y2="711.0" stroke="#111" stroke-width="2"/>
<text x="270.4" y="719.5" font-size="19.1" fill="#1a1a1a">200</text>
<rect x="311.5" y="683.8" width="56.3" height="13" fill="#918c8c" stroke="#111" stroke-width="1.4"/>
<rect x="334.6" y="683.8" width="9.8" height="13" fill="#E8214B" stroke="#111" stroke-width="1.2"/>
<rect x="311.5" y="707.6" width="46.2" height="12.6" fill="#918c8c" stroke="#111" stroke-width="1.4"/>
<line x1="334.6" y1="707.6" x2="334.6" y2="720.2" stroke="#111" stroke-width="1.4"/>
<svg x="113.3" y="737.7" width="139.6" height="54.7">
<rect x="0" y="0" width="139.6" height="54.7" fill="url(#gelbg)"/>
<rect x="-1" y="-1" width="141.6" height="56.7" fill="none" stroke="#000" stroke-opacity="0.2" stroke-width="7" filter="url(#blr2)"/>
<g filter="url(#blr)">
<rect x="7.1" y="14.2" width="24" height="7" rx="2.5" fill="#000" opacity="1"/>
<rect x="40.3" y="14.2" width="24" height="7" rx="2.5" fill="#000" opacity="1"/>
<rect x="74.2" y="8.6" width="23" height="8" rx="2" fill="#000" opacity="0.10"/>
<rect x="73.7" y="14.6" width="24" height="6" rx="2.5" fill="#000" opacity="0.45"/>
<rect x="107.6" y="8.6" width="23" height="8" rx="2" fill="#000" opacity="0.11"/>
<rect x="107.1" y="14.6" width="24" height="6" rx="2.5" fill="#000" opacity="0.5"/>
<rect x="73.7" y="35.0" width="24" height="6.5" rx="2.5" fill="#000" opacity="0.45"/>
<rect x="107.1" y="35.3" width="24" height="6" rx="2.5" fill="#000" opacity="0.3"/>
</g>
</svg>
<rect x="113.3" y="737.7" width="139.6" height="54.7" fill="none" stroke="#222" stroke-width="2.2"/>
<text x="27.2" y="761.5" textLength="77.0" lengthAdjust="spacing" font-size="21.5" fill="#1a1a1a">TRRAP</text>
<text x="101.5" y="781.3" text-anchor="end" font-size="21.5" letter-spacing="0.5" fill="#1a1a1a">_ex4</text>
<line x1="253.8" y1="752.5" x2="265.8" y2="752.5" stroke="#111" stroke-width="2"/>
<text x="270.4" y="757.6" font-size="19.1" fill="#1a1a1a">300</text>
<line x1="253.8" y1="773.2" x2="265.8" y2="773.2" stroke="#111" stroke-width="2"/>
<text x="270.4" y="782.4" font-size="19.1" fill="#1a1a1a">200</text>
<rect x="311.5" y="745.5" width="56.3" height="13" fill="#918c8c" stroke="#111" stroke-width="1.4"/>
<rect x="334.6" y="745.5" width="9.8" height="13" fill="#E8214B" stroke="#111" stroke-width="1.2"/>
<rect x="311.5" y="769.3" width="46.2" height="12.6" fill="#918c8c" stroke="#111" stroke-width="1.4"/>
<line x1="334.6" y1="769.3" x2="334.6" y2="781.9" stroke="#111" stroke-width="1.4"/>
<svg x="113.3" y="800.7" width="139.6" height="54.1">
<rect x="0" y="0" width="139.6" height="54.1" fill="url(#gelbg)"/>
<rect x="-1" y="-1" width="141.6" height="56.1" fill="none" stroke="#000" stroke-opacity="0.2" stroke-width="7" filter="url(#blr2)"/>
<g filter="url(#blr)">
<rect x="7.1" y="14.2" width="24" height="7.5" rx="2.5" fill="#000" opacity="1"/>
<rect x="40.3" y="14.2" width="24" height="7.5" rx="2.5" fill="#000" opacity="1"/>
<rect x="74.2" y="9.0" width="23" height="8" rx="2" fill="#000" opacity="0.13"/>
<rect x="73.7" y="15.0" width="24" height="7" rx="2.5" fill="#000" opacity="0.6"/>
<rect x="107.6" y="9.5" width="23" height="8" rx="2" fill="#000" opacity="0.13"/>
<rect x="107.1" y="15.5" width="24" height="7" rx="2.5" fill="#000" opacity="0.6"/>
<rect x="73.7" y="9.5" width="24" height="5" rx="2.5" fill="#000" opacity="0.2"/>
<rect x="107.1" y="10.0" width="24" height="5" rx="2.5" fill="#000" opacity="0.2"/>
<rect x="73.7" y="35.0" width="24" height="6" rx="2.5" fill="#000" opacity="0.42"/>
<rect x="107.1" y="35.0" width="24" height="6" rx="2.5" fill="#000" opacity="0.42"/>
</g>
</svg>
<rect x="113.3" y="800.7" width="139.6" height="54.1" fill="none" stroke="#222" stroke-width="2.2"/>
<text x="30.5" y="824.5" textLength="72.9" lengthAdjust="spacing" font-size="21.5" fill="#1a1a1a">NUP54</text>
<text x="101.5" y="844.3" text-anchor="end" font-size="21.5" letter-spacing="0.5" fill="#1a1a1a">_ex10</text>
<line x1="253.8" y1="817.7" x2="265.8" y2="817.7" stroke="#111" stroke-width="2"/>
<text x="270.4" y="822.6" font-size="19.1" fill="#1a1a1a">300</text>
<line x1="253.8" y1="838.6" x2="265.8" y2="838.6" stroke="#111" stroke-width="2"/>
<text x="270.4" y="847.0" font-size="19.1" fill="#1a1a1a">200</text>
<rect x="311.5" y="808.5" width="56.3" height="13" fill="#918c8c" stroke="#111" stroke-width="1.4"/>
<rect x="334.6" y="808.5" width="9.8" height="13" fill="#E8214B" stroke="#111" stroke-width="1.2"/>
<rect x="311.5" y="832.3" width="46.2" height="12.6" fill="#918c8c" stroke="#111" stroke-width="1.4"/>
<line x1="334.6" y1="832.3" x2="334.6" y2="844.9" stroke="#111" stroke-width="1.4"/>
<svg x="113.3" y="863.7" width="139.6" height="53.3">
<rect x="0" y="0" width="139.6" height="53.3" fill="url(#gelbg)"/>
<rect x="-1" y="-1" width="141.6" height="55.3" fill="none" stroke="#000" stroke-opacity="0.2" stroke-width="7" filter="url(#blr2)"/>
<g filter="url(#blr)">
<rect x="7.1" y="12.8" width="24" height="7.5" rx="2.5" fill="#000" opacity="1"/>
<rect x="40.3" y="13.2" width="24" height="7.5" rx="2.5" fill="#000" opacity="1"/>
<rect x="74.2" y="8.2" width="23" height="8" rx="2" fill="#000" opacity="0.19"/>
<rect x="73.7" y="14.2" width="24" height="6.5" rx="2.5" fill="#000" opacity="0.85"/>
<rect x="107.6" y="9.0" width="23" height="8" rx="2" fill="#000" opacity="0.15"/>
<rect x="107.1" y="15.0" width="24" height="6" rx="2.5" fill="#000" opacity="0.7"/>
<rect x="73.7" y="8.5" width="24" height="5" rx="2.5" fill="#000" opacity="0.3"/>
<rect x="107.6" y="3.5" width="23" height="8" rx="2" fill="#000" opacity="0.09"/>
<rect x="107.1" y="9.5" width="24" height="4" rx="2.5" fill="#000" opacity="0.4"/>
<rect x="73.7" y="34.5" width="24" height="5" rx="2.5" fill="#000" opacity="0.15"/>
<rect x="107.1" y="35.0" width="24" height="5" rx="2.5" fill="#000" opacity="0.2"/>
</g>
</svg>
<rect x="113.3" y="863.7" width="139.6" height="53.3" fill="none" stroke="#222" stroke-width="2.2"/>
<text x="39.7" y="887.5" textLength="63.7" lengthAdjust="spacing" font-size="21.5" fill="#1a1a1a">EIF3A</text>
<text x="101.5" y="907.3" text-anchor="end" font-size="21.5" letter-spacing="0.5" fill="#1a1a1a">_ex8</text>
<line x1="253.8" y1="875.4" x2="265.8" y2="875.4" stroke="#111" stroke-width="2"/>
<text x="270.4" y="881.3" font-size="19.1" fill="#1a1a1a">300</text>
<line x1="253.8" y1="896.6" x2="265.8" y2="896.6" stroke="#111" stroke-width="2"/>
<text x="270.4" y="905.8" font-size="19.1" fill="#1a1a1a">200</text>
<rect x="311.5" y="871.5" width="56.3" height="13" fill="#918c8c" stroke="#111" stroke-width="1.4"/>
<rect x="334.6" y="871.5" width="9.8" height="13" fill="#E8214B" stroke="#111" stroke-width="1.2"/>
<rect x="311.5" y="895.3" width="46.2" height="12.6" fill="#918c8c" stroke="#111" stroke-width="1.4"/>
<line x1="334.6" y1="895.3" x2="334.6" y2="907.9" stroke="#111" stroke-width="1.4"/>
<svg x="113.3" y="925.4" width="139.6" height="54.6">
<rect x="0" y="0" width="139.6" height="54.6" fill="url(#gelbg)"/>
<rect x="-1" y="-1" width="141.6" height="56.6" fill="none" stroke="#000" stroke-opacity="0.2" stroke-width="7" filter="url(#blr2)"/>
<g filter="url(#blr)">
<rect x="7.1" y="16.8" width="24" height="7.5" rx="2.5" fill="#000" opacity="1"/>
<rect x="40.3" y="16.8" width="24" height="7.5" rx="2.5" fill="#000" opacity="1"/>
<rect x="74.2" y="9.5" width="23" height="8" rx="2" fill="#000" opacity="0.11"/>
<rect x="73.7" y="15.5" width="24" height="8" rx="2.5" fill="#000" opacity="0.48"/>
<rect x="107.6" y="9.5" width="23" height="8" rx="2" fill="#000" opacity="0.11"/>
<rect x="107.1" y="15.5" width="24" height="8" rx="2.5" fill="#000" opacity="0.52"/>
<rect x="73.7" y="33.8" width="24" height="6.5" rx="2.5" fill="#000" opacity="0.32"/>
<rect x="107.1" y="33.8" width="24" height="6.5" rx="2.5" fill="#000" opacity="0.32"/>
</g>
</svg>
<rect x="113.3" y="925.4" width="139.6" height="54.6" fill="none" stroke="#222" stroke-width="2.2"/>
<text x="14.3" y="949.2" textLength="91.6" lengthAdjust="spacing" font-size="21.5" fill="#1a1a1a">NPLOC4</text>
<text x="101.5" y="969.0" text-anchor="end" font-size="21.5" letter-spacing="0.5" fill="#1a1a1a">_ex9</text>
<line x1="253.8" y1="950.2" x2="265.8" y2="950.2" stroke="#111" stroke-width="2"/>
<text x="270.4" y="956.0" font-size="19.1" fill="#1a1a1a">200</text>
<line x1="253.8" y1="978.6" x2="265.8" y2="978.6" stroke="#111" stroke-width="2"/>
<text x="270.4" y="982.1" font-size="19.1" fill="#1a1a1a">75</text>
<rect x="311.5" y="933.2" width="56.3" height="13" fill="#918c8c" stroke="#111" stroke-width="1.4"/>
<rect x="334.6" y="933.2" width="9.8" height="13" fill="#E8214B" stroke="#111" stroke-width="1.2"/>
<rect x="311.5" y="957.0" width="46.2" height="12.6" fill="#918c8c" stroke="#111" stroke-width="1.4"/>
<line x1="334.6" y1="957.0" x2="334.6" y2="969.6" stroke="#111" stroke-width="1.4"/>
<svg x="113.3" y="988.0" width="139.6" height="54.7">
<rect x="0" y="0" width="139.6" height="54.7" fill="url(#gelbg)"/>
<rect x="-1" y="-1" width="141.6" height="56.7" fill="none" stroke="#000" stroke-opacity="0.2" stroke-width="7" filter="url(#blr2)"/>
<g filter="url(#blr)">
<rect x="7.1" y="14.8" width="24" height="7.5" rx="2.5" fill="#000" opacity="1"/>
<rect x="40.3" y="14.8" width="24" height="7.5" rx="2.5" fill="#000" opacity="1"/>
<rect x="74.2" y="9.0" width="23" height="8" rx="2" fill="#000" opacity="0.11"/>
<rect x="73.7" y="15.0" width="24" height="6" rx="2.5" fill="#000" opacity="0.5"/>
<rect x="107.6" y="8.5" width="23" height="8" rx="2" fill="#000" opacity="0.15"/>
<rect x="107.1" y="14.5" width="24" height="6" rx="2.5" fill="#000" opacity="0.7"/>
<rect x="73.7" y="32.0" width="24" height="6" rx="2.5" fill="#000" opacity="0.45"/>
<rect x="107.1" y="32.2" width="24" height="5.5" rx="2.5" fill="#000" opacity="0.38"/>
</g>
</svg>
<rect x="113.3" y="988.0" width="139.6" height="54.7" fill="none" stroke="#222" stroke-width="2.2"/>
<text x="13.9" y="1011.8" textLength="91.0" lengthAdjust="spacing" font-size="21.5" fill="#1a1a1a">EXOSC7</text>
<text x="101.5" y="1031.6" text-anchor="end" font-size="21.5" letter-spacing="0.5" fill="#1a1a1a">_ex2</text>
<line x1="253.8" y1="1005.6" x2="265.8" y2="1005.6" stroke="#111" stroke-width="2"/>
<text x="270.4" y="1010.9" font-size="19.1" fill="#1a1a1a">300</text>
<line x1="253.8" y1="1024.2" x2="265.8" y2="1024.2" stroke="#111" stroke-width="2"/>
<text x="270.4" y="1033.6" font-size="19.1" fill="#1a1a1a">200</text>
<rect x="311.5" y="995.8" width="56.3" height="13" fill="#918c8c" stroke="#111" stroke-width="1.4"/>
<rect x="334.6" y="995.8" width="9.8" height="13" fill="#E8214B" stroke="#111" stroke-width="1.2"/>
<rect x="311.5" y="1019.6" width="46.2" height="12.6" fill="#918c8c" stroke="#111" stroke-width="1.4"/>
<line x1="334.6" y1="1019.6" x2="334.6" y2="1032.2" stroke="#111" stroke-width="1.4"/>
<svg x="113.3" y="1050.6" width="139.6" height="54.8">
<rect x="0" y="0" width="139.6" height="54.8" fill="url(#gelbg)"/>
<rect x="-1" y="-1" width="141.6" height="56.8" fill="none" stroke="#000" stroke-opacity="0.2" stroke-width="7" filter="url(#blr2)"/>
<g filter="url(#blr)">
<rect x="7.1" y="14.5" width="24" height="7" rx="2.5" fill="#000" opacity="0.95"/>
<rect x="40.3" y="14.5" width="24" height="7" rx="2.5" fill="#000" opacity="0.95"/>
<rect x="74.2" y="8.0" width="23" height="8" rx="2" fill="#000" opacity="0.09"/>
<rect x="73.7" y="14.0" width="24" height="7" rx="2.5" fill="#000" opacity="0.42"/>
<rect x="107.6" y="8.0" width="23" height="8" rx="2" fill="#000" opacity="0.09"/>
<rect x="107.1" y="14.0" width="24" height="7" rx="2.5" fill="#000" opacity="0.42"/>
<rect x="73.7" y="32.0" width="24" height="7" rx="2.5" fill="#000" opacity="0.4"/>
<rect x="107.1" y="32.0" width="24" height="7" rx="2.5" fill="#000" opacity="0.36"/>
</g>
</svg>
<rect x="113.3" y="1050.6" width="139.6" height="54.8" fill="none" stroke="#222" stroke-width="2.2"/>
<text x="24.6" y="1074.4" textLength="80.3" lengthAdjust="spacing" font-size="21.5" fill="#1a1a1a">DGCR8</text>
<text x="101.5" y="1094.2" text-anchor="end" font-size="21.5" letter-spacing="0.5" fill="#1a1a1a">_ex8</text>
<line x1="253.8" y1="1065.3" x2="265.8" y2="1065.3" stroke="#111" stroke-width="2"/>
<text x="270.4" y="1070.5" font-size="19.1" fill="#1a1a1a">300</text>
<line x1="253.8" y1="1086.2" x2="265.8" y2="1086.2" stroke="#111" stroke-width="2"/>
<text x="270.4" y="1095.0" font-size="19.1" fill="#1a1a1a">200</text>
<rect x="311.5" y="1058.4" width="56.3" height="13" fill="#918c8c" stroke="#111" stroke-width="1.4"/>
<rect x="334.6" y="1058.4" width="9.8" height="13" fill="#E8214B" stroke="#111" stroke-width="1.2"/>
<rect x="311.5" y="1082.2" width="46.2" height="12.6" fill="#918c8c" stroke="#111" stroke-width="1.4"/>
<line x1="334.6" y1="1082.2" x2="334.6" y2="1094.8" stroke="#111" stroke-width="1.4"/>
<svg x="113.3" y="1113.2" width="139.6" height="54.8">
<rect x="0" y="0" width="139.6" height="54.8" fill="url(#gelbg)"/>
<rect x="-1" y="-1" width="141.6" height="56.8" fill="none" stroke="#000" stroke-opacity="0.2" stroke-width="7" filter="url(#blr2)"/>
<g filter="url(#blr)">
<rect x="7.1" y="13.2" width="24" height="7.5" rx="2.5" fill="#000" opacity="1"/>
<rect x="40.3" y="13.8" width="24" height="7.5" rx="2.5" fill="#000" opacity="1"/>
<rect x="74.2" y="9.2" width="23" height="8" rx="2" fill="#000" opacity="0.22"/>
<rect x="73.7" y="15.2" width="24" height="6.5" rx="2.5" fill="#000" opacity="1"/>
<rect x="107.6" y="9.8" width="23" height="8" rx="2" fill="#000" opacity="0.22"/>
<rect x="107.1" y="15.8" width="24" height="6.5" rx="2.5" fill="#000" opacity="1"/>
<rect x="73.7" y="31.8" width="24" height="5.5" rx="2.5" fill="#000" opacity="0.6"/>
<rect x="107.1" y="31.8" width="24" height="5.5" rx="2.5" fill="#000" opacity="0.5"/>
<rect x="7.1" y="33.5" width="24" height="5" rx="2.5" fill="#000" opacity="0.05"/>
<rect x="40.3" y="33.5" width="24" height="5" rx="2.5" fill="#000" opacity="0.06"/>
</g>
</svg>
<rect x="113.3" y="1113.2" width="139.6" height="54.8" fill="none" stroke="#222" stroke-width="2.2"/>
<text x="-0.4" y="1137.0" textLength="107.3" lengthAdjust="spacing" font-size="21.5" fill="#1a1a1a">RANGAP1</text>
<text x="101.5" y="1156.8" text-anchor="end" font-size="21.5" letter-spacing="0.5" fill="#1a1a1a">_ex8</text>
<line x1="253.8" y1="1127.3" x2="265.8" y2="1127.3" stroke="#111" stroke-width="2"/>
<text x="270.4" y="1132.8" font-size="19.1" fill="#1a1a1a">400</text>
<line x1="253.8" y1="1146.1" x2="265.8" y2="1146.1" stroke="#111" stroke-width="2"/>
<text x="270.4" y="1155.3" font-size="19.1" fill="#1a1a1a">300</text>
<rect x="311.5" y="1121.0" width="56.3" height="13" fill="#918c8c" stroke="#111" stroke-width="1.4"/>
<rect x="334.6" y="1121.0" width="9.8" height="13" fill="#E8214B" stroke="#111" stroke-width="1.2"/>
<rect x="311.5" y="1144.8" width="46.2" height="12.6" fill="#918c8c" stroke="#111" stroke-width="1.4"/>
<line x1="334.6" y1="1144.8" x2="334.6" y2="1157.4" stroke="#111" stroke-width="1.4"/>
<line x1="122.1" y1="643.6" x2="170.8" y2="643.6" stroke="#111" stroke-width="2"/>
<text transform="translate(136.8,630.5) rotate(-57.5)" font-size="19.6" fill="#1a1a1a">Intergenic</text>
<text transform="translate(156.9,640.6) rotate(-57.5)" font-size="19.6" fill="#1a1a1a">hgRNAs</text>
<line x1="188.3" y1="643.6" x2="237.0" y2="643.6" stroke="#111" stroke-width="2"/>
<text transform="translate(203.0,630.5) rotate(-57.5)" font-size="19.6" fill="#1a1a1a">Exon del.</text>
<text transform="translate(223.1,640.6) rotate(-57.5)" font-size="19.6" fill="#1a1a1a">hgRNAs</text>
<text x="131.2" y="666.7" text-anchor="middle" font-size="18.5" fill="#1a1a1a">1</text>
<text x="164.3" y="666.7" text-anchor="middle" font-size="18.5" fill="#1a1a1a">2</text>
<text x="197.4" y="666.7" text-anchor="middle" font-size="18.5" fill="#1a1a1a">1</text>
<text x="230.2" y="666.7" text-anchor="middle" font-size="18.5" fill="#1a1a1a">2</text>
<text x="272.3" y="674.2" font-size="18.5" fill="#1a1a1a">bp</text>
</g>
<g id="pc">
<rect x="600.9" y="711.9" width="35" height="47.9" fill="#F68C82"/>
<rect x="600.9" y="759.9" width="35" height="148.9" fill="#41B65E"/>
<rect x="600.9" y="908.8" width="35" height="49.3" fill="#8DB4E2"/>
<path d="M600.9 958.1V711.9H635.9V958.1M600.9 759.9H635.9M600.9 908.8H635.9" fill="none" stroke="#111" stroke-width="2"/>
<path d="M618.4 911.7V904.9M608.6 911.7h19.6M608.6 904.9h19.6" fill="none" stroke="#111" stroke-width="2"/>
<path d="M618.4 761.8V756.9M608.6 761.8h19.6M608.6 756.9h19.6" fill="none" stroke="#111" stroke-width="2"/>
<rect x="654.7" y="713.9" width="35" height="45.0" fill="#F68C82"/>
<rect x="654.7" y="758.9" width="35" height="121.9" fill="#41B65E"/>
<rect x="654.7" y="880.8" width="35" height="77.3" fill="#8DB4E2"/>
<path d="M654.7 958.1V713.9H689.7V958.1M654.7 758.9H689.7M654.7 880.8H689.7" fill="none" stroke="#111" stroke-width="2"/>
<path d="M672.2 885.7V875.3M662.4 885.7h19.6M662.4 875.3h19.6" fill="none" stroke="#111" stroke-width="2"/>
<path d="M672.2 761.4V754.6M662.4 761.4h19.6M662.4 754.6h19.6" fill="none" stroke="#111" stroke-width="2"/>
<rect x="708.4" y="711.9" width="35" height="52.0" fill="#F68C82"/>
<rect x="708.4" y="764.0" width="35" height="124.6" fill="#41B65E"/>
<rect x="708.4" y="888.6" width="35" height="69.5" fill="#8DB4E2"/>
<path d="M708.4 958.1V711.9H743.4V958.1M708.4 764.0H743.4M708.4 888.6H743.4" fill="none" stroke="#111" stroke-width="2"/>
<path d="M725.9 891.6V885.3M716.1 891.6h19.6M716.1 885.3h19.6" fill="none" stroke="#111" stroke-width="2"/>
<path d="M725.9 768.9V758.5M716.1 768.9h19.6M716.1 758.5h19.6" fill="none" stroke="#111" stroke-width="2"/>
<rect x="762.5" y="713.9" width="35" height="47.2" fill="#F68C82"/>
<rect x="762.5" y="761.1" width="35" height="132.5" fill="#41B65E"/>
<rect x="762.5" y="893.5" width="35" height="64.6" fill="#8DB4E2"/>
<path d="M762.5 958.1V713.9H797.5V958.1M762.5 761.1H797.5M762.5 893.5H797.5" fill="none" stroke="#111" stroke-width="2"/>
<path d="M780.0 898.0V888.6M770.2 898.0h19.6M770.2 888.6h19.6" fill="none" stroke="#111" stroke-width="2"/>
<path d="M780.0 766.9V755.2M770.2 766.9h19.6M770.2 755.2h19.6" fill="none" stroke="#111" stroke-width="2"/>
<rect x="816.5" y="713.9" width="35" height="53.8" fill="#F68C82"/>
<rect x="816.5" y="767.7" width="35" height="130.1" fill="#41B65E"/>
<rect x="816.5" y="897.8" width="35" height="60.3" fill="#8DB4E2"/>
<path d="M816.5 958.1V713.9H851.5V958.1M816.5 767.7H851.5M816.5 897.8H851.5" fill="none" stroke="#111" stroke-width="2"/>
<path d="M834.0 898.6V897.1M824.2 898.6h19.6M824.2 897.1h19.6" fill="none" stroke="#111" stroke-width="2"/>
<path d="M834.0 768.3V765.9M824.2 768.3h19.6M824.2 765.9h19.6" fill="none" stroke="#111" stroke-width="2"/>
<rect x="870.6" y="713.9" width="35" height="63.8" fill="#F68C82"/>
<rect x="870.6" y="777.7" width="35" height="133.7" fill="#41B65E"/>
<rect x="870.6" y="911.4" width="35" height="46.7" fill="#8DB4E2"/>
<path d="M870.6 958.1V713.9H905.6V958.1M870.6 777.7H905.6M870.6 911.4H905.6" fill="none" stroke="#111" stroke-width="2"/>
<path d="M888.1 913.5V908.1M878.3 913.5h19.6M878.3 908.1h19.6" fill="none" stroke="#111" stroke-width="2"/>
<path d="M888.1 785.7V768.4M878.3 785.7h19.6M878.3 768.4h19.6" fill="none" stroke="#111" stroke-width="2"/>
<rect x="924.5" y="711.2" width="35" height="57.6" fill="#F68C82"/>
<rect x="924.5" y="768.8" width="35" height="135.8" fill="#41B65E"/>
<rect x="924.5" y="904.6" width="35" height="53.5" fill="#8DB4E2"/>
<path d="M924.5 958.1V711.2H959.5V958.1M924.5 768.8H959.5M924.5 904.6H959.5" fill="none" stroke="#111" stroke-width="2"/>
<path d="M942.0 905.6V904.2M932.2 905.6h19.6M932.2 904.2h19.6" fill="none" stroke="#111" stroke-width="2"/>
<path d="M942.0 772.3V765.1M932.2 772.3h19.6M932.2 765.1h19.6" fill="none" stroke="#111" stroke-width="2"/>
<rect x="978.3" y="713.9" width="35" height="46.7" fill="#F68C82"/>
<rect x="978.3" y="760.6" width="35" height="142.0" fill="#41B65E"/>
<rect x="978.3" y="902.6" width="35" height="55.5" fill="#8DB4E2"/>
<path d="M978.3 958.1V713.9H1013.3V958.1M978.3 760.6H1013.3M978.3 902.6H1013.3" fill="none" stroke="#111" stroke-width="2"/>
<path d="M995.8 904.0V900.1M986.0 904.0h19.6M986.0 900.1h19.6" fill="none" stroke="#111" stroke-width="2"/>
<path d="M995.8 765.1V756.1M986.0 765.1h19.6M986.0 756.1h19.6" fill="none" stroke="#111" stroke-width="2"/>
<rect x="1032.5" y="711.2" width="35" height="46.3" fill="#F68C82"/>
<rect x="1032.5" y="757.5" width="35" height="150.8" fill="#41B65E"/>
<rect x="1032.5" y="908.3" width="35" height="49.8" fill="#8DB4E2"/>
<path d="M1032.5 958.1V711.2H1067.5V958.1M1032.5 757.5H1067.5M1032.5 908.3H1067.5" fill="none" stroke="#111" stroke-width="2"/>
<path d="M1050.0 914.5V901.9M1040.2 914.5h19.6M1040.2 901.9h19.6" fill="none" stroke="#111" stroke-width="2"/>
<path d="M1050.0 768.4V746.6M1040.2 768.4h19.6M1040.2 746.6h19.6" fill="none" stroke="#111" stroke-width="2"/>
<rect x="1086.4" y="713.9" width="35" height="50.8" fill="#F68C82"/>
<rect x="1086.4" y="764.7" width="35" height="147.7" fill="#41B65E"/>
<rect x="1086.4" y="912.4" width="35" height="45.7" fill="#8DB4E2"/>
<path d="M1086.4 958.1V713.9H1121.4V958.1M1086.4 764.7H1121.4M1086.4 912.4H1121.4" fill="none" stroke="#111" stroke-width="2"/>
<path d="M1103.9 915.3V909.3M1094.1 915.3h19.6M1094.1 909.3h19.6" fill="none" stroke="#111" stroke-width="2"/>
<path d="M1103.9 770.5V759.0M1094.1 770.5h19.6M1094.1 759.0h19.6" fill="none" stroke="#111" stroke-width="2"/>
<rect x="1140.4" y="713.9" width="35" height="58.6" fill="#F68C82"/>
<rect x="1140.4" y="772.5" width="35" height="137.2" fill="#41B65E"/>
<rect x="1140.4" y="909.8" width="35" height="48.3" fill="#8DB4E2"/>
<path d="M1140.4 958.1V713.9H1175.4V958.1M1140.4 772.5H1175.4M1140.4 909.8H1175.4" fill="none" stroke="#111" stroke-width="2"/>
<path d="M1157.9 913.5V905.0M1148.1 913.5h19.6M1148.1 905.0h19.6" fill="none" stroke="#111" stroke-width="2"/>
<path d="M1157.9 779.1V765.1M1148.1 779.1h19.6M1148.1 765.1h19.6" fill="none" stroke="#111" stroke-width="2"/>
<line x1="583" y1="759.5" x2="1176.4" y2="759.5" stroke="#111" stroke-width="2" stroke-dasharray="4.6 1.6"/>
<line x1="583" y1="908.8" x2="1176.4" y2="908.8" stroke="#111" stroke-width="2" stroke-dasharray="4.6 1.6"/>
<path d="M582 712.9V959.1M581 958.1H1186.7" fill="none" stroke="#111" stroke-width="2"/>
<g stroke="#111" stroke-width="2">
<line x1="574" y1="958.1" x2="582" y2="958.1"/>
<line x1="574" y1="933.7" x2="582" y2="933.7"/>
<line x1="574" y1="909.3" x2="582" y2="909.3"/>
<line x1="574" y1="884.8" x2="582" y2="884.8"/>
<line x1="574" y1="860.4" x2="582" y2="860.4"/>
<line x1="574" y1="836.0" x2="582" y2="836.0"/>
<line x1="574" y1="811.6" x2="582" y2="811.6"/>
<line x1="574" y1="787.2" x2="582" y2="787.2"/>
<line x1="574" y1="762.7" x2="582" y2="762.7"/>
<line x1="574" y1="738.3" x2="582" y2="738.3"/>
<line x1="574" y1="713.9" x2="582" y2="713.9"/>
<line x1="617.9" y1="958.1" x2="617.9" y2="966.6"/>
<line x1="671.7" y1="958.1" x2="671.7" y2="966.6"/>
<line x1="725.4" y1="958.1" x2="725.4" y2="966.6"/>
<line x1="779.5" y1="958.1" x2="779.5" y2="966.6"/>
<line x1="833.5" y1="958.1" x2="833.5" y2="966.6"/>
<line x1="887.6" y1="958.1" x2="887.6" y2="966.6"/>
<line x1="941.5" y1="958.1" x2="941.5" y2="966.6"/>
<line x1="995.3" y1="958.1" x2="995.3" y2="966.6"/>
<line x1="1049.5" y1="958.1" x2="1049.5" y2="966.6"/>
<line x1="1103.4" y1="958.1" x2="1103.4" y2="966.6"/>
<line x1="1157.4" y1="958.1" x2="1157.4" y2="966.6"/>
</g>
<g font-size="18" text-anchor="end" fill="#111">
<text x="567" y="964.4">0</text>
<text x="567" y="940.0">10</text>
<text x="567" y="915.6">20</text>
<text x="567" y="891.1">30</text>
<text x="567" y="866.7">40</text>
<text x="567" y="842.3">50</text>
<text x="567" y="817.9">60</text>
<text x="567" y="793.5">70</text>
<text x="567" y="769.0">80</text>
<text x="567" y="744.6">90</text>
<text x="567" y="720.2">100</text>
</g>
<g font-size="19" letter-spacing="0.8" text-anchor="middle" fill="#2a2a2a">
<text x="672.2" y="840.9">***</text>
<text x="725.9" y="840.9">***</text>
<text x="780.0" y="840.9">*</text>
<text x="834.0" y="840.9">**</text>
<text x="888.1" y="840.9">*</text>
<text x="672.2" y="938.7">****</text>
<text x="725.9" y="938.7">****</text>
<text x="780.0" y="938.7">***</text>
<text x="834.0" y="938.7">*</text>
<text x="888.1" y="742.6">****</text>
<text x="942.0" y="742.6">*</text>
<text x="1157.9" y="742.6">**</text>
</g>
<text x="436.2" y="681.9" font-size="18.4" fill="#111">Based on Scanpy:</text>
<g font-size="18" text-anchor="middle" fill="#111">
<text x="619.0" y="681.9">-</text>
<text x="672.8" y="681.9">G1</text>
<text x="726.5" y="681.9">G1</text>
<text x="780.6" y="681.9">G1</text>
<text x="834.6" y="681.9">G1</text>
<text x="888.7" y="681.9">G1</text>
<text x="942.6" y="681.9">-</text>
<text x="996.4" y="681.9">-</text>
<text x="1050.6" y="681.9">-</text>
<text x="1104.5" y="681.9">-</text>
<text x="1158.5" y="681.9">-</text>
</g>
<text x="853" y="598.2" text-anchor="middle" font-size="21.87" font-weight="bold" fill="#111">Experimental validation of exon-specific impacts on cell cycle distribution</text>
<text transform="translate(521.5,822) rotate(-90)" text-anchor="middle" font-size="22" font-weight="bold" fill="#111">% of cells</text>
<g font-size="22.8" text-anchor="end" fill="#111">
<text transform="translate(623.9,985) rotate(-45)">Intergenic</text>
<text transform="translate(677.7,985) rotate(-45)">SKP2_ex6</text>
<text transform="translate(731.4,985) rotate(-45)">TRRAP_ex4</text>
<text transform="translate(785.5,985) rotate(-45)">NUP54_ex10</text>
<text transform="translate(839.5,985) rotate(-45)">EIF3A_ex8</text>
<text transform="translate(893.6,985) rotate(-45)">NPLOC4_ex9</text>
<text transform="translate(947.5,985) rotate(-45)">LSM11_ex3</text>
<text transform="translate(1001.3,985) rotate(-45)">TAF5_ex8</text>
<text transform="translate(1055.5,985) rotate(-45)">EXOSC7_ex2</text>
<text transform="translate(1109.4,985) rotate(-45)">DGCR8_ex8</text>
<text transform="translate(1163.4,985) rotate(-45)">RANGAP1_ex8</text>
</g>
<rect x="1191.6" y="715.5" width="18" height="18" fill="#F68C82" stroke="#111" stroke-width="2"/>
<text x="1215.5" y="730.5" font-size="21.6" fill="#111">G2/M</text>
<rect x="1191.6" y="751.8" width="18" height="18" fill="#41B65E" stroke="#111" stroke-width="2"/>
<text x="1215.5" y="766.8" font-size="21.6" fill="#111">S</text>
<rect x="1191.6" y="788.0" width="18" height="18" fill="#8DB4E2" stroke="#111" stroke-width="2"/>
<text x="1215.5" y="803.0" font-size="21.6" fill="#111">G1</text>
</g>
<g id="pd">
<rect x="1379.6" y="637.7" width="659.4" height="464.8" fill="none" stroke="#505055" stroke-width="2.1"/>
<g stroke="#505055" stroke-width="2">
<line x1="1379.6" y1="1102.5" x2="1379.6" y2="1113"/>
<line x1="1368.6" y1="1102.5" x2="1379.6" y2="1102.5"/>
<line x1="1544.5" y1="1102.5" x2="1544.5" y2="1113"/>
<line x1="1368.6" y1="986.3" x2="1379.6" y2="986.3"/>
<line x1="1709.3" y1="1102.5" x2="1709.3" y2="1113"/>
<line x1="1368.6" y1="870.1" x2="1379.6" y2="870.1"/>
<line x1="1874.1" y1="1102.5" x2="1874.1" y2="1113"/>
<line x1="1368.6" y1="753.9" x2="1379.6" y2="753.9"/>
<line x1="2039.0" y1="1102.5" x2="2039.0" y2="1113"/>
<line x1="1368.6" y1="637.7" x2="1379.6" y2="637.7"/>
</g>
<g font-size="18.4" fill="#4d4d4d">
<text x="1379.6" y="1131.2" text-anchor="middle">−10</text>
<text x="1364.5" y="1109.4" text-anchor="end">−10</text>
<text x="1544.5" y="1131.2" text-anchor="middle">−5</text>
<text x="1364.5" y="993.2" text-anchor="end">−5</text>
<text x="1709.3" y="1131.2" text-anchor="middle">0</text>
<text x="1364.5" y="877.0" text-anchor="end">0</text>
<text x="1874.1" y="1131.2" text-anchor="middle">5</text>
<text x="1364.5" y="760.8" text-anchor="end">5</text>
<text x="2039.0" y="1131.2" text-anchor="middle">10</text>
<text x="1364.5" y="644.6" text-anchor="end">10</text>
</g>
<path d="M1606.5 827.2L1618.3 809.6L1632.0 792.0L1641.8 778.3L1657.4 766.5L1677.0 758.7L1696.6 752.8L1716.1 747.0L1735.7 741.1L1755.3 735.2L1774.8 733.3L1794.4 733.3L1814.0 737.2L1833.5 739.1L1853.1 741.1L1872.7 743.1L1882.5 748.9L1872.7 764.6L1864.9 776.3L1872.7 784.1L1882.5 793.9L1886.4 807.6L1882.5 821.3L1872.7 833.1L1860.9 844.8L1853.1 856.6L1845.3 870.3L1829.6 880.0L1821.8 895.7L1810.1 903.5L1794.4 907.4L1790.5 915.3L1774.8 925.0L1755.3 927.0L1735.7 921.1L1725.9 930.9L1722.0 944.6L1716.1 960.3L1708.3 970.1L1677.0 974.0L1649.6 974.0L1628.1 968.1L1618.3 954.4L1612.4 940.7L1604.6 934.8L1588.9 930.9L1579.1 925.0L1585.0 911.4L1590.9 899.6L1598.7 887.9L1608.5 876.1L1618.3 866.3L1624.1 856.6L1618.3 846.8L1610.5 837.0Z" fill="#4A86C8" stroke="#4A86C8" stroke-width="5" stroke-linejoin="round"/>
<path d="M1840.2 671.2h0M1850.2 684.8h0M1887.1 684.8h0M1901.8 686.0h0M1916.0 684.8h0M1966.0 684.8h0M1846.5 699.0h0M1921.7 706.7h0M1931.3 706.7h0M1707.7 707.3h0M1946.7 756.9h0M1528.1 852.0h0M1511.1 863.6h0M1518.2 886.0h0M1538.3 883.5h0M1552.2 881.8h0M1555.6 888.9h0M1565.6 889.1h0M1579.2 889.7h0M1504.0 924.6h0M1550.8 939.9h0M1560.2 935.1h0M1570.7 934.6h0M1576.3 949.3h0M1582.0 961.2h0M1546.5 972.6h0M1570.7 966.3h0M1548.0 984.8h0M1584.9 978.5h0M1584.3 989.6h0M1594.2 997.0h0M1668.6 996.1h0M1687.0 1010.9h0M1706.3 991.0h0M1723.3 978.3h0M1562.2 1042.4h0M1912.6 861.3h0M1892.7 894.0h0M1882.0 901.4h0M1886.2 912.4h0M1920.8 801.7h0M1909.8 806.9h0M1897.9 806.0h0M1897.9 872.1h0M1885.7 872.7h0M1877.7 872.1h0M1806.2 915.3h0M1793.4 937.1h0M1755.7 945.6h0M1741.5 957.3h0M1597.3 815.9h0M1638.2 732.8h0M1656.7 737.3h0M1672.8 733.6h0M1679.4 731.4h0M1631.4 747.3h0M1685.6 742.7h0M1765.1 709.5h0M1773.6 708.1h0M1782.1 701.0h0M1789.2 700.2h0M1789.2 713.8h0M1800.5 709.5h0M1816.1 709.5h0M1823.2 701.0h0M1836.0 708.1h0M1836.0 713.2h0M1860.1 710.9h0M1870.0 713.8h0M1881.4 708.1h0M1888.5 706.7h0M1892.7 712.4h0M1899.8 714.3h0M1905.5 709.0h0M1914.0 717.2h0M1909.8 723.7h0M1914.0 732.2h0M1894.2 726.5h0M1884.2 720.9h0M1848.8 723.7h0M1895.6 746.4h0M1909.2 748.7h0M1877.1 755.8h0M1906.9 764.9h0M1877.1 774.8h0M1889.9 772.0h0M1898.4 773.4h0M1906.9 774.8h0M1916.9 772.0h0M1925.4 774.8h0M1892.7 787.6h0M1904.1 790.4h0M1914.0 781.9h0M1901.3 818.8h0M1894.2 840.1h0M1875.7 851.4h0M1887.1 854.8h0M1861.5 851.4h0M1863.0 859.9h0M1860.1 864.2h0M1845.9 875.5h0M1862.4 875.5h0M1840.2 875.5h0M1857.3 885.5h0M1844.5 886.9h0M1836.0 892.6h0M1858.7 891.1h0M1851.6 896.8h0M1837.4 899.6h0M1828.9 902.5h0M1833.2 905.3h0M1814.7 902.5h0M1789.2 926.6h0M1793.4 929.4h0M1780.7 923.8h0M1766.5 932.3h0M1760.8 932.3h0M1752.3 935.1h0M1743.8 945.1h0M1738.1 942.2h0M1732.4 922.3h0M1733.8 929.4h0M1722.5 964.9h0M1714.0 964.9h0M1711.1 976.3h0M1695.0 976.8h0M1664.3 977.7h0M1658.6 984.8h0M1653.0 985.6h0M1643.0 976.8h0M1631.7 974.0h0M1614.7 970.6h0M1614.1 978.5h0M1616.1 961.5h0M1599.0 947.3h0M1592.0 942.2h0M1584.9 941.6h0M1577.8 927.2h0M1582.0 923.8h0M1584.9 911.0h0M1592.0 899.6h0M1601.3 883.2h0M1614.7 874.1h0M1623.2 868.4h0M1618.9 859.9h0M1607.6 851.4h0M1614.7 838.6h0M1600.5 840.6h0M1593.4 850.6h0M1587.7 852.3h0M1584.9 835.8h0M1592.0 835.2h0M1607.6 820.8h0M1616.1 825.9h0M1617.5 806.0h0M1616.1 788.4h0M1630.3 780.5h0M1631.7 776.2h0M1647.3 759.2h0M1651.5 754.9h0M1648.7 764.9h0M1667.2 756.9h0M1678.5 752.9h0M1702.6 735.1h0M1718.8 718.9h0M1728.2 723.7h0M1738.1 715.2h0M1721.1 728.0h0M1740.9 725.1h0M1753.7 718.0h0M1758.0 722.3h0M1573.5 855.7h0M1574.9 872.7h0M1584.9 871.3h0M1571.5 857.1h0M1606.5 823.3h0M1606.2 825.1h0M1612.2 821.7h0M1614.0 819.2h0M1612.9 820.4h0M1602.1 813.5h0M1603.6 822.1h0M1629.9 791.8h0M1620.3 799.9h0M1616.1 806.6h0M1623.1 805.1h0M1619.9 807.5h0M1613.8 801.0h0M1621.7 794.2h0M1633.9 792.1h0M1632.0 787.7h0M1636.1 786.1h0M1636.9 783.4h0M1631.6 775.3h0M1649.9 770.4h0M1653.8 765.8h0M1643.6 771.4h0M1643.2 776.3h0M1639.4 770.2h0M1636.6 770.1h0M1667.3 758.6h0M1662.6 761.7h0M1668.4 760.2h0M1665.1 759.8h0M1675.5 758.1h0M1654.9 756.8h0M1665.3 749.5h0M1682.4 756.6h0M1690.6 756.6h0M1686.3 756.9h0M1679.7 759.6h0M1692.4 755.3h0M1681.3 745.2h0M1676.4 751.1h0M1712.9 744.5h0M1713.5 747.9h0M1704.6 750.1h0M1712.6 743.6h0M1699.8 752.8h0M1698.9 743.9h0M1706.5 744.0h0M1724.2 744.1h0M1726.0 739.6h0M1729.2 741.6h0M1727.5 741.0h0M1730.6 731.3h0M1751.2 735.9h0M1743.9 740.0h0M1748.6 738.9h0M1737.2 741.3h0M1738.8 739.9h0M1734.4 736.8h0M1762.6 736.3h0M1772.2 731.5h0M1758.2 735.3h0M1762.0 734.2h0M1770.6 720.7h0M1784.3 734.7h0M1776.8 733.0h0M1780.0 729.9h0M1778.0 735.1h0M1785.2 728.8h0M1785.5 730.0h0M1814.3 733.6h0M1808.0 736.3h0M1801.4 735.6h0M1809.8 734.9h0M1801.9 729.4h0M1812.8 723.8h0M1830.1 735.5h0M1828.4 739.2h0M1824.1 737.9h0M1814.4 739.0h0M1819.4 738.0h0M1833.4 731.6h0M1833.6 726.2h0M1840.6 740.4h0M1837.9 740.3h0M1837.7 737.5h0M1851.5 737.5h0M1843.1 737.8h0M1836.2 729.7h0M1852.4 730.2h0M1862.4 742.9h0M1868.6 742.5h0M1869.2 738.4h0M1860.9 741.3h0M1871.9 740.3h0M1856.0 736.9h0M1880.0 748.7h0M1883.0 744.2h0M1879.3 746.7h0M1875.6 741.1h0M1877.3 759.8h0M1874.0 764.0h0M1876.8 764.4h0M1880.1 752.0h0M1879.2 753.3h0M1886.0 756.8h0M1891.4 757.4h0M1870.6 771.0h0M1866.2 775.6h0M1866.5 776.1h0M1871.2 772.5h0M1864.9 779.2h0M1870.5 783.2h0M1876.6 775.9h0M1878.9 788.1h0M1879.4 792.7h0M1877.9 789.9h0M1885.9 786.0h0M1889.2 803.3h0M1886.1 799.5h0M1885.7 800.5h0M1892.2 797.8h0M1885.1 821.2h0M1886.9 820.8h0M1886.9 811.6h0M1887.3 820.3h0M1893.0 811.3h0M1878.9 823.2h0M1878.3 831.2h0M1872.9 831.2h0M1879.4 831.9h0M1883.6 839.8h0M1861.9 844.7h0M1870.1 841.9h0M1862.2 842.2h0M1871.1 843.6h0M1860.7 850.0h0M1862.1 845.9h0M1855.9 848.9h0M1862.8 856.6h0M1848.1 871.6h0M1844.4 869.2h0M1849.5 859.3h0M1854.7 862.4h0M1860.3 868.4h0M1840.7 871.9h0M1831.8 880.7h0M1833.6 875.9h0M1845.7 872.9h0M1850.7 881.5h0M1841.2 885.8h0M1821.5 892.7h0M1823.7 894.0h0M1828.4 886.1h0M1831.4 886.2h0M1830.3 890.7h0M1819.0 895.6h0M1819.4 897.3h0M1819.8 900.5h0M1818.6 903.6h0M1809.7 903.2h0M1810.5 906.3h0M1801.2 904.9h0M1796.4 911.1h0M1793.8 911.4h0M1791.6 914.2h0M1803.2 918.6h0M1778.8 925.6h0M1780.9 922.0h0M1784.2 917.3h0M1787.6 915.2h0M1788.9 921.7h0M1795.2 925.8h0M1761.7 926.2h0M1770.1 925.4h0M1765.7 925.0h0M1766.1 925.6h0M1756.4 931.2h0M1771.3 938.1h0M1769.4 932.2h0M1747.5 925.8h0M1745.6 923.4h0M1746.0 922.2h0M1750.5 924.1h0M1753.5 929.9h0M1747.8 930.3h0M1732.6 928.3h0M1731.1 929.4h0M1727.5 930.1h0M1729.2 933.9h0M1721.7 939.3h0M1726.3 943.4h0M1726.1 940.3h0M1733.3 935.1h0M1734.8 940.9h0M1718.8 958.2h0M1719.0 959.5h0M1717.5 955.3h0M1720.8 944.7h0M1732.0 950.2h0M1712.8 967.7h0M1711.7 967.7h0M1718.6 962.3h0M1718.7 970.4h0M1706.6 973.1h0M1700.2 969.5h0M1700.3 973.8h0M1702.2 973.6h0M1677.9 975.1h0M1696.5 972.7h0M1687.3 975.7h0M1688.6 976.3h0M1704.4 976.1h0M1685.8 979.0h0M1676.6 972.4h0M1669.6 976.3h0M1658.0 976.4h0M1669.0 975.3h0M1664.3 975.0h0M1673.7 977.8h0M1650.2 986.3h0M1676.5 981.6h0M1628.5 969.2h0M1644.0 971.8h0M1629.4 967.8h0M1637.4 969.5h0M1637.2 974.9h0M1629.8 977.0h0M1627.9 978.4h0M1618.3 956.5h0M1629.4 966.6h0M1622.5 961.9h0M1621.4 969.9h0M1615.2 942.1h0M1610.7 945.5h0M1613.9 954.3h0M1607.6 944.4h0M1609.7 952.0h0M1607.6 937.5h0M1609.2 938.0h0M1612.8 939.4h0M1602.8 948.9h0M1600.1 935.1h0M1601.5 934.5h0M1588.7 934.7h0M1591.8 944.1h0M1587.8 939.4h0M1587.0 933.0h0M1583.0 930.8h0M1582.7 927.0h0M1577.7 929.1h0M1581.2 920.4h0M1579.5 913.2h0M1578.6 920.6h0M1576.0 914.7h0M1586.5 909.7h0M1589.2 900.2h0M1582.8 907.0h0M1583.7 904.1h0M1582.6 907.3h0M1592.0 898.8h0M1591.5 895.6h0M1595.4 887.6h0M1587.3 890.2h0M1603.2 884.9h0M1598.1 881.9h0M1599.0 885.6h0M1603.2 874.4h0M1597.1 881.2h0M1609.9 868.8h0M1614.2 865.2h0M1610.0 877.2h0M1611.8 861.9h0M1617.8 866.1h0M1620.8 855.5h0M1619.6 855.7h0M1615.0 862.9h0M1616.6 852.0h0M1618.0 850.6h0M1618.8 849.6h0M1614.6 861.7h0M1609.4 839.1h0M1616.8 843.1h0M1614.6 845.6h0M1614.5 848.0h0M1607.7 831.5h0M1607.8 835.5h0" fill="none" stroke="#4A86C8" stroke-width="9.4" stroke-linecap="round"/>
<rect x="1697.8" y="862.4" width="22.6" height="14.6" fill="#fff"/>
<line x1="1481" y1="1023.6" x2="1989.4" y2="670.8" stroke="#000" stroke-width="2"/>
<text x="1710.6" y="594.5" text-anchor="middle" font-size="22.6" font-weight="bold" fill="#2b2b2b">Correlation of differentially expressed genes between</text>
<text x="1710.6" y="622.7" text-anchor="middle" font-size="22.6" font-weight="bold" fill="#2b2b2b">gene knockouts and exon perturbations</text>
<text x="1407.7" y="682" font-size="22.65" font-weight="bold" fill="#111">Pearson's r = 0.65</text>
<text transform="translate(1329.5,868.8) rotate(-90)" text-anchor="middle" font-size="22.65" font-weight="bold" fill="#111">log2 fold-change in gene knockout</text>
<text x="1710.6" y="1159.2" text-anchor="middle" font-size="22.65" font-weight="bold" fill="#111">log2 fold-change in exon perturbation</text>
</g>
<g id="pe">
<path d="M251.7 1586.3L253.4 1585.8L262.8 1588.3L270.2 1593.7L275.4 1601.5L281.9 1611.9L283.7 1630.6L286.5 1650.0L289.2 1666.5L292.0 1688.6L295.9 1716.2L301.3 1736.7L307.0 1716.2L309.8 1694.1L312.5 1672.1L315.1 1659.1L321.6 1650.1L318.1 1638.7L321.3 1632.4L333.5 1627.1L341.5 1616.8L336.0 1605.2L338.0 1599.2L349.4 1594.6L352.0 1595.9L352.4 1664.0L371.8 1664.3L367.5 1670.5L361.8 1687.4L359.0 1704.9L363.3 1719.5L368.9 1731.0L359.9 1732.7L346.2 1735.4L332.1 1738.3L315.5 1746.0L301.3 1749.4L292.4 1747.6L279.2 1743.4L267.4 1735.5L255.3 1722.1L244.5 1708.5L235.1 1692.4L229.8 1676.8L230.4 1668.1L251.5 1663.9Z" fill="#9B9B9B" stroke="#9B9B9B" stroke-width="3" stroke-linejoin="round"/>
<path d="M254.1 1590.2h0M256.3 1591.3h0M259.7 1591.7h0M260.6 1592.0h0M267.1 1595.6h0M266.2 1596.8h0M272.9 1603.7h0M276.2 1613.9h0M279.7 1617.8h0M279.0 1622.3h0M277.2 1625.7h0M278.5 1634.9h0M279.7 1639.1h0M281.2 1644.4h0M283.8 1653.0h0M284.1 1659.1h0M285.1 1664.5h0M284.5 1669.6h0M288.0 1677.8h0M287.6 1682.6h0M286.3 1685.4h0M286.5 1691.0h0M288.8 1699.0h0M289.6 1704.9h0M292.0 1710.8h0M289.9 1711.4h0M292.3 1722.2h0M292.9 1728.6h0M293.8 1729.1h0M310.0 1730.2h0M310.1 1728.4h0M310.4 1716.9h0M312.3 1716.1h0M313.6 1710.8h0M314.3 1701.4h0M313.9 1697.0h0M313.4 1693.4h0M314.4 1688.3h0M315.8 1682.9h0M317.1 1677.0h0M317.1 1666.2h0M317.3 1663.8h0M319.1 1661.6h0M323.6 1654.3h0M323.9 1647.3h0M324.2 1640.4h0M325.3 1635.7h0M324.6 1637.4h0M328.9 1633.7h0M337.8 1628.2h0M342.1 1623.8h0M342.5 1607.9h0M339.6 1605.1h0M341.6 1606.6h0M344.4 1600.4h0M347.5 1601.5h0M350.4 1598.7h0M348.8 1595.4h0M347.6 1604.2h0M345.9 1607.0h0M348.8 1610.2h0M347.9 1616.4h0M348.3 1621.7h0M346.5 1628.7h0M348.0 1631.7h0M346.3 1636.3h0M348.4 1644.1h0M346.5 1649.6h0M346.2 1656.3h0M346.5 1656.9h0M357.1 1670.9h0M362.0 1670.0h0M371.2 1671.2h0M367.5 1663.5h0M362.0 1674.9h0M360.5 1678.7h0M357.9 1680.6h0M358.9 1687.3h0M357.5 1696.6h0M356.1 1698.2h0M356.7 1709.9h0M359.3 1715.4h0M359.7 1721.7h0M365.4 1732.7h0M365.7 1727.2h0M360.1 1729.6h0M356.9 1729.5h0M346.3 1732.3h0M342.7 1732.7h0M332.6 1734.0h0M326.3 1735.7h0M321.4 1738.9h0M318.7 1740.3h0M310.1 1744.2h0M306.0 1743.4h0M301.0 1745.3h0M298.3 1745.5h0M293.0 1744.2h0M286.7 1741.6h0M279.4 1737.3h0M271.4 1733.0h0M267.3 1731.1h0M266.9 1726.0h0M260.9 1722.7h0M258.9 1717.8h0M251.3 1711.0h0M248.7 1709.1h0M246.8 1705.0h0M244.7 1699.8h0M238.1 1691.8h0M238.0 1686.4h0M237.0 1682.4h0M235.4 1679.6h0M233.5 1673.3h0M233.8 1668.4h0M231.3 1674.1h0M237.4 1672.5h0M241.3 1671.3h0M248.6 1669.5h0M255.3 1660.3h0M256.7 1651.8h0M258.1 1651.3h0M258.0 1642.0h0M256.2 1637.7h0M255.5 1634.6h0M257.7 1631.0h0M258.1 1623.6h0M257.4 1616.5h0M258.0 1614.9h0M256.7 1607.2h0M256.0 1602.1h0M254.9 1596.0h0M257.5 1591.5h0M257.6 1587.4h0M258.9 1426.8h0M258.9 1438.2h0M257.9 1487.2h0M258.4 1503.7h0M270.8 1509.3h0M261.0 1520.7h0M276.7 1531.3h0M342.1 1536.4h0M250.0 1551.1h0M262.7 1551.1h0M274.1 1552.9h0M256.4 1563.8h0M261.5 1573.9h0M274.6 1573.9h0M252.6 1580.3h0M271.6 1587.9h0M261.5 1594.2h0M271.6 1594.2h0M350.7 1576.5h0M335.0 1600.6h0M350.2 1598.0h0M340.1 1608.2h0M225.2 1705.1h0M395.4 1665.3h0M382.7 1674.1h0M380.7 1709.6h0M368.0 1730.4h0M375.6 1662.7h0M355.3 1731.2h0M341.4 1735.0h0" fill="none" stroke="#9B9B9B" stroke-width="15.6" stroke-linecap="round"/>
<path d="M226.6 1604.9L239.1 1603.5L248.0 1604.6L248.2 1659.8L237.0 1659.0L227.3 1655.4L223.9 1650.7L218.6 1640.3L216.1 1629.0L218.7 1620.2L223.7 1607.2Z" fill="#3D55A8" stroke="#3D55A8" stroke-width="3" stroke-linejoin="round"/>
<path d="M226.4 1609.5h0M238.3 1609.0h0M239.2 1608.4h0M247.2 1609.4h0M243.9 1606.0h0M244.0 1610.2h0M241.6 1618.3h0M243.7 1623.9h0M242.8 1624.9h0M244.4 1633.0h0M243.2 1637.0h0M244.0 1645.1h0M242.9 1650.9h0M242.0 1654.7h0M244.1 1660.5h0M245.9 1655.4h0M241.9 1656.0h0M233.1 1654.6h0M230.2 1652.9h0M228.9 1652.5h0M226.0 1644.1h0M225.1 1643.0h0M221.3 1636.5h0M222.5 1630.1h0M222.6 1627.4h0M223.6 1622.5h0M222.6 1619.3h0M226.9 1614.5h0M227.6 1608.8h0M207.2 1342.6h0M234.1 1426.8h0M248.0 1431.9h0M232.5 1445.8h0M202.4 1489.0h0M246.7 1480.1h0M235.6 1487.2h0M229.0 1496.6h0M243.7 1511.0h0M232.5 1514.3h0M238.6 1520.7h0M230.5 1533.9h0M238.6 1533.9h0M247.5 1533.9h0M236.1 1547.3h0M231.8 1554.9h0M233.6 1572.7h0M241.2 1572.7h0M236.1 1581.5h0M243.7 1591.7h0M195.5 1624.7h0M240.7 1500.4h0M242.4 1563.8h0M237.4 1587.9h0" fill="none" stroke="#3D55A8" stroke-width="15.6" stroke-linecap="round"/>
<path d="M355.4 1599.6L358.7 1602.2L364.5 1610.7L377.0 1612.6L385.9 1612.4L392.8 1617.1L394.8 1620.4L388.0 1629.7L390.7 1640.1L389.5 1648.5L386.3 1654.1L373.9 1657.6L355.8 1659.8Z" fill="#CC2229" stroke="#CC2229" stroke-width="3" stroke-linejoin="round"/>
<path d="M357.0 1605.7h0M359.7 1611.8h0M370.3 1617.5h0M372.0 1616.2h0M380.0 1616.1h0M388.1 1619.1h0M391.1 1622.9h0M390.5 1617.6h0M386.6 1626.0h0M385.4 1632.9h0M386.7 1641.7h0M384.7 1644.3h0M383.9 1649.5h0M381.5 1649.2h0M372.5 1653.6h0M371.9 1654.5h0M365.8 1653.8h0M359.9 1652.8h0M355.6 1654.2h0M359.6 1656.8h0M361.1 1655.1h0M361.2 1650.5h0M359.7 1641.4h0M361.6 1637.8h0M360.6 1633.9h0M362.3 1624.6h0M362.6 1619.9h0M361.9 1617.7h0M361.6 1609.6h0M360.6 1606.0h0M360.2 1602.0h0M439.8 1342.6h0M374.6 1375.6h0M372.6 1438.2h0M421.8 1440.0h0M407.3 1464.9h0M381.2 1487.2h0M385.7 1487.2h0M375.6 1534.6h0M356.6 1548.6h0M378.6 1548.1h0M359.6 1565.1h0M382.7 1579.0h0M380.7 1582.8h0M407.8 1589.9h0M512.6 1576.0h0M416.2 1628.5h0M355.3 1579.0h0" fill="none" stroke="#CC2229" stroke-width="15.6" stroke-linecap="round"/>
<g stroke="#111" stroke-width="2.1" stroke-dasharray="15.7 16.6">
<line x1="248.7" y1="1763" x2="248.7" y2="1288.3"/>
<line x1="354.7" y1="1763" x2="354.7" y2="1288.3"/>
<line x1="68.9" y1="1661.8" x2="534.2" y2="1661.8"/>
</g>
<rect x="68.9" y="1288.3" width="465.3" height="474.7" fill="none" stroke="#111" stroke-width="1.8"/>
<g stroke="#111" stroke-width="1.6">
<line x1="89.4" y1="1763" x2="89.4" y2="1767.5"/>
<line x1="195.4" y1="1763" x2="195.4" y2="1767.5"/>
<line x1="301.4" y1="1763" x2="301.4" y2="1767.5"/>
<line x1="407.4" y1="1763" x2="407.4" y2="1767.5"/>
<line x1="513.4" y1="1763" x2="513.4" y2="1767.5"/>
<line x1="64.4" y1="1742.3" x2="68.9" y2="1742.3"/>
<line x1="64.4" y1="1680.4" x2="68.9" y2="1680.4"/>
<line x1="64.4" y1="1618.5" x2="68.9" y2="1618.5"/>
<line x1="64.4" y1="1556.6" x2="68.9" y2="1556.6"/>
<line x1="64.4" y1="1494.7" x2="68.9" y2="1494.7"/>
<line x1="64.4" y1="1432.8" x2="68.9" y2="1432.8"/>
<line x1="64.4" y1="1370.9" x2="68.9" y2="1370.9"/>
<line x1="64.4" y1="1309.0" x2="68.9" y2="1309.0"/>
</g>
<g font-size="18.4" fill="#111">
<text x="89.4" y="1789.3" text-anchor="middle">−2</text>
<text x="195.4" y="1789.3" text-anchor="middle">−1</text>
<text x="301.4" y="1789.3" text-anchor="middle">0</text>
<text x="407.4" y="1789.3" text-anchor="middle">1</text>
<text x="513.4" y="1789.3" text-anchor="middle">2</text>
<text x="59.5" y="1748.9" text-anchor="end">0</text>
<text x="59.5" y="1687.0" text-anchor="end">1</text>
<text x="59.5" y="1625.1" text-anchor="end">2</text>
<text x="59.5" y="1563.2" text-anchor="end">3</text>
<text x="59.5" y="1501.3" text-anchor="end">4</text>
<text x="59.5" y="1439.4" text-anchor="end">5</text>
<text x="59.5" y="1377.5" text-anchor="end">6</text>
<text x="59.5" y="1315.6" text-anchor="end">7</text>
</g>
<text x="307" y="1252.3" text-anchor="middle" font-size="22.65" font-weight="bold" fill="#111">Differentially expressed genes</text>
<text x="307" y="1280.5" text-anchor="middle" font-size="22.6" font-weight="bold" fill="#111"><tspan font-style="italic">SKP2</tspan> exon-6 deletion vs <tspan font-style="italic">SKP2</tspan> KO</text>
<text transform="translate(27,1523) rotate(-90)" text-anchor="middle" font-size="22.3" font-weight="bold" fill="#111">−log10(padj)</text>
<text x="301.4" y="1810.8" text-anchor="middle" font-size="22.3" font-weight="bold" fill="#111">log2 fold-change</text>
<circle cx="558.5" cy="1305.9" r="7.9" fill="#3D55A8"/><circle cx="558.5" cy="1347" r="7.9" fill="#CC2229"/>
<text x="578.3" y="1311.8" font-size="22.6" fill="#111">Downregulated: 64</text>
<text x="578.3" y="1354" font-size="22.6" fill="#111">Upregulated: 55</text>
</g>
<g id="pf">
<path d="M1128.9 1586.8L1141.3 1578.4L1161.4 1565.0L1174.8 1546.6L1188.2 1523.1L1200.9 1498.7L1215.7 1465.5L1230.1 1432.4L1246.8 1394.2L1246.8 1530.8L1228.4 1544.9L1215.0 1551.6L1194.9 1561.6L1181.5 1573.4L1168.1 1595.1L1154.7 1621.9L1141.3 1652.1L1128.9 1682.2Z" fill="#EFD5CC"/>
<g fill="#286eb9" fill-opacity="0.8">
<circle cx="1138.6" cy="1338.3" r="4"/>
<circle cx="1235.8" cy="1351.0" r="4"/>
<circle cx="1202.9" cy="1362.0" r="4"/>
<circle cx="1246.8" cy="1387.8" r="4"/>
<circle cx="1212.0" cy="1420.0" r="4"/>
<circle cx="1220.3" cy="1427.3" r="4"/>
<circle cx="1214.7" cy="1432.7" r="4"/>
<circle cx="1178.8" cy="1428.4" r="4"/>
<circle cx="1162.4" cy="1434.4" r="4"/>
<circle cx="1200.3" cy="1445.1" r="4"/>
<circle cx="1194.2" cy="1449.8" r="4"/>
<circle cx="1189.9" cy="1451.1" r="4"/>
<circle cx="1203.9" cy="1452.5" r="4"/>
<circle cx="1156.4" cy="1451.5" r="4"/>
<circle cx="1189.2" cy="1461.5" r="4"/>
<circle cx="1205.6" cy="1465.9" r="4"/>
<circle cx="1174.8" cy="1466.5" r="4"/>
<circle cx="1168.1" cy="1467.5" r="4"/>
<circle cx="1164.1" cy="1471.2" r="4"/>
<circle cx="1154.7" cy="1474.2" r="4"/>
<circle cx="1190.9" cy="1475.9" r="4"/>
<circle cx="1193.2" cy="1478.6" r="4"/>
<circle cx="1176.5" cy="1476.2" r="4"/>
<circle cx="1171.5" cy="1477.9" r="4"/>
<circle cx="1165.8" cy="1479.6" r="4"/>
<circle cx="1181.5" cy="1481.9" r="4"/>
<circle cx="1189.9" cy="1481.9" r="4"/>
<circle cx="1174.8" cy="1481.3" r="4"/>
<circle cx="1168.1" cy="1481.9" r="4"/>
<circle cx="1182.2" cy="1486.6" r="4"/>
<circle cx="1144.7" cy="1489.3" r="4"/>
<circle cx="1161.4" cy="1490.6" r="4"/>
<circle cx="1170.8" cy="1490.6" r="4"/>
<circle cx="1179.8" cy="1492.3" r="4"/>
<circle cx="1178.2" cy="1493.7" r="4"/>
<circle cx="1153.0" cy="1495.0" r="4"/>
<circle cx="1170.8" cy="1495.7" r="4"/>
<circle cx="1160.4" cy="1497.0" r="4"/>
<circle cx="1155.4" cy="1498.0" r="4"/>
<circle cx="1170.8" cy="1499.7" r="4"/>
<circle cx="1169.8" cy="1502.4" r="4"/>
<circle cx="1149.4" cy="1513.4" r="4"/>
<circle cx="1145.3" cy="1521.1" r="4"/>
<circle cx="1135.3" cy="1539.2" r="4"/>
<circle cx="1202.6" cy="1606.9" r="4"/>
<circle cx="1199.2" cy="1611.9" r="4"/>
<circle cx="1192.2" cy="1617.6" r="4"/>
<circle cx="1198.2" cy="1619.6" r="4"/>
<circle cx="1192.6" cy="1619.9" r="4"/>
<circle cx="1192.2" cy="1624.6" r="4"/>
<circle cx="1181.5" cy="1626.9" r="4"/>
<circle cx="1184.2" cy="1629.6" r="4"/>
<circle cx="1176.5" cy="1632.6" r="4"/>
<circle cx="1172.1" cy="1634.3" r="4"/>
<circle cx="1181.5" cy="1634.6" r="4"/>
<circle cx="1191.5" cy="1635.3" r="4"/>
<circle cx="1201.3" cy="1636.3" r="4"/>
<circle cx="1186.5" cy="1636.0" r="4"/>
<circle cx="1171.5" cy="1638.7" r="4"/>
<circle cx="1183.2" cy="1641.0" r="4"/>
<circle cx="1174.8" cy="1642.0" r="4"/>
<circle cx="1169.8" cy="1643.7" r="4"/>
<circle cx="1163.1" cy="1645.4" r="4"/>
<circle cx="1178.2" cy="1648.0" r="4"/>
<circle cx="1171.5" cy="1648.7" r="4"/>
<circle cx="1158.1" cy="1649.7" r="4"/>
<circle cx="1168.1" cy="1652.1" r="4"/>
<circle cx="1173.1" cy="1653.7" r="4"/>
<circle cx="1159.7" cy="1653.7" r="4"/>
<circle cx="1176.5" cy="1656.1" r="4"/>
<circle cx="1168.1" cy="1656.4" r="4"/>
<circle cx="1156.4" cy="1659.8" r="4"/>
<circle cx="1162.1" cy="1664.8" r="4"/>
<circle cx="1159.7" cy="1668.1" r="4"/>
<circle cx="1178.8" cy="1679.2" r="4"/>
<circle cx="1153.7" cy="1686.6" r="4"/>
<circle cx="1176.5" cy="1687.2" r="4"/>
<circle cx="1129.6" cy="1688.2" r="4"/>
<circle cx="1131.9" cy="1702.0" r="4"/>
<circle cx="1139.0" cy="1705.0" r="4"/>
<circle cx="1149.7" cy="1723.7" r="4"/>
<circle cx="1173.1" cy="1637.0" r="4"/>
<circle cx="1170.8" cy="1641.3" r="4"/>
<circle cx="1174.1" cy="1646.0" r="4"/>
<circle cx="1169.8" cy="1648.7" r="4"/>
<circle cx="1174.8" cy="1650.4" r="4"/>
<circle cx="1166.4" cy="1647.0" r="4"/>
<circle cx="1171.5" cy="1644.7" r="4"/>
<circle cx="1164.8" cy="1651.4" r="4"/>
</g>
<line x1="1127.9" y1="1640.3" x2="1248.5" y2="1447.8" stroke="#A8282A" stroke-width="3.8"/>
<path d="M986.6 1296.5V1742.5H1395.2" fill="none" stroke="#222" stroke-width="2.3"/>
<g stroke="#222" stroke-width="1.8">
<line x1="987.2" y1="1742.5" x2="987.2" y2="1748.5"/>
<line x1="1050.5" y1="1742.5" x2="1050.5" y2="1748.5"/>
<line x1="1113.8" y1="1742.5" x2="1113.8" y2="1748.5"/>
<line x1="1177.0" y1="1742.5" x2="1177.0" y2="1748.5"/>
<line x1="1240.2" y1="1742.5" x2="1240.2" y2="1748.5"/>
<line x1="1303.5" y1="1742.5" x2="1303.5" y2="1748.5"/>
<line x1="1366.8" y1="1742.5" x2="1366.8" y2="1748.5"/>
<line x1="980.6" y1="1695.6" x2="986.6" y2="1695.6"/>
<line x1="980.6" y1="1629.3" x2="986.6" y2="1629.3"/>
<line x1="980.6" y1="1563.0" x2="986.6" y2="1563.0"/>
<line x1="980.6" y1="1496.7" x2="986.6" y2="1496.7"/>
<line x1="980.6" y1="1430.4" x2="986.6" y2="1430.4"/>
<line x1="980.6" y1="1364.1" x2="986.6" y2="1364.1"/>
<line x1="980.6" y1="1297.8" x2="986.6" y2="1297.8"/>
</g>
<g font-size="18.8" fill="#222">
<text x="987.2" y="1773" text-anchor="middle">−1.5</text>
<text x="1050.5" y="1773" text-anchor="middle">−1.0</text>
<text x="1113.8" y="1773" text-anchor="middle">−0.5</text>
<text x="1177.0" y="1773" text-anchor="middle">0.0</text>
<text x="1240.2" y="1773" text-anchor="middle">0.5</text>
<text x="1303.5" y="1773" text-anchor="middle">1.0</text>
<text x="1366.8" y="1773" text-anchor="middle">1.5</text>
<text x="975.3" y="1702.2" text-anchor="end">−1.0</text>
<text x="975.3" y="1635.9" text-anchor="end">−0.5</text>
<text x="975.3" y="1569.6" text-anchor="end">0.0</text>
<text x="975.3" y="1503.3" text-anchor="end">0.5</text>
<text x="975.3" y="1437.0" text-anchor="end">1.0</text>
<text x="975.3" y="1370.7" text-anchor="end">1.5</text>
<text x="975.3" y="1304.4" text-anchor="end">2.0</text>
</g>
<text x="1188.9" y="1274.6" text-anchor="middle" font-size="22.55" font-weight="bold" fill="#222"><tspan font-style="italic">SKP2</tspan> exon-6</text>
<text x="1012.4" y="1322.9" font-size="22.6" fill="#222">r = 0.32</text>
<text transform="translate(918.6,1513.8) rotate(-90)" text-anchor="middle" font-size="22.7" font-weight="bold" fill="#111">log2 fold−change <tspan font-style="italic">SKP2</tspan> exon-6 deletion</text>
<text x="1192.9" y="1811" text-anchor="middle" font-size="22.6" font-weight="bold" fill="#111">log2 fold-change <tspan font-style="italic">SKP2</tspan> knockout</text>
</g>
<g id="pg">
<rect x="1594.4" y="1410.2" width="53.9" height="207.6" fill="#C3C1C2" stroke="#111" stroke-width="2"/>
<text x="1621.3" y="1402.6" text-anchor="middle" font-size="33.5" fill="#111">****</text>
<line x1="1621.3" y1="1617.8" x2="1621.3" y2="1628.3" stroke="#333" stroke-width="1.8"/>
<rect x="1684.1" y="1529.0" width="53.3" height="88.8" fill="#C3C1C2" stroke="#111" stroke-width="2"/>
<text x="1710.8" y="1523.1" text-anchor="middle" font-size="33.5" fill="#111">**</text>
<line x1="1710.8" y1="1617.8" x2="1710.8" y2="1628.3" stroke="#333" stroke-width="1.8"/>
<rect x="1773.5" y="1540.8" width="53.3" height="77.0" fill="#C3C1C2" stroke="#111" stroke-width="2"/>
<text x="1800.2" y="1533.8" text-anchor="middle" font-size="33.5" fill="#111">**</text>
<line x1="1800.2" y1="1617.8" x2="1800.2" y2="1628.3" stroke="#333" stroke-width="1.8"/>
<rect x="1863.6" y="1546.1" width="52.9" height="71.7" fill="#C3C1C2" stroke="#111" stroke-width="2"/>
<text x="1890.0" y="1540.5" text-anchor="middle" font-size="33.5" fill="#111">**</text>
<line x1="1890.0" y1="1617.8" x2="1890.0" y2="1628.3" stroke="#333" stroke-width="1.8"/>
<rect x="1952.6" y="1547.8" width="53.6" height="70.0" fill="#C3C1C2" stroke="#111" stroke-width="2"/>
<text x="1979.4" y="1541.5" text-anchor="middle" font-size="33.5" fill="#111">**</text>
<line x1="1979.4" y1="1617.8" x2="1979.4" y2="1628.3" stroke="#333" stroke-width="1.8"/>
<path d="M1556.3 1277.6V1617.8M1545.5 1617.8H2028.6" fill="none" stroke="#111" stroke-width="2"/>
<g stroke="#111" stroke-width="2">
<line x1="1545.5" y1="1617.8" x2="1556.3" y2="1617.8"/>
<line x1="1545.5" y1="1550.0" x2="1556.3" y2="1550.0"/>
<line x1="1545.5" y1="1482.1" x2="1556.3" y2="1482.1"/>
<line x1="1545.5" y1="1414.3" x2="1556.3" y2="1414.3"/>
<line x1="1545.5" y1="1346.4" x2="1556.3" y2="1346.4"/>
<line x1="1545.5" y1="1278.6" x2="1556.3" y2="1278.6"/>
</g>
<g font-size="18.5" fill="#111" text-anchor="end">
<text x="1539.5" y="1624.4">0</text>
<text x="1539.5" y="1556.6">2</text>
<text x="1539.5" y="1488.7">4</text>
<text x="1539.5" y="1420.9">6</text>
<text x="1539.5" y="1353.0">8</text>
<text x="1539.5" y="1285.2">10</text>
</g>
<text x="1811.6" y="1274.3" text-anchor="middle" font-size="22.5" font-weight="bold" fill="#111">Enriched KEGG Functions</text>
<text transform="translate(1499,1452.7) rotate(-90)" text-anchor="middle" font-size="22.3" fill="#111">–log10(padj)</text>
<g font-size="22.5" text-anchor="end" fill="#111">
<text transform="translate(1623.3,1642.7) rotate(-45)" y="0">Cell cycle</text>
<text transform="translate(1712.8,1642.7) rotate(-45)" y="0">Progesterone−mediated</text>
<text transform="translate(1712.8,1642.7) rotate(-45)" y="25">oocyte maturation</text>
<text transform="translate(1802.2,1642.7) rotate(-45)" y="0">Motor proteins</text>
<text transform="translate(1892.0,1642.7) rotate(-45)" y="0">Oocyte meiosis</text>
<text transform="translate(1981.4,1642.7) rotate(-45)" y="0">p53 signaling pathway</text>
</g>
</g>
<g id="plabels" font-size="25" font-weight="bold" fill="#231f20" stroke="#231f20" stroke-width="1.1" stroke-linejoin="round">
<text transform="translate(2.1,13.1) scale(1.1,1)">a</text>
<text transform="translate(1.9,564.7) scale(1.1,1)">b</text>
<text transform="translate(405.7,564.5) scale(1.1,1)">c</text>
<text transform="translate(1290.6,565.0) scale(1.1,1)">d</text>
<text transform="translate(1.6,1225.2) scale(1.1,1)">e</text>
<text transform="translate(868.4,1224.5) scale(1.1,1)">f</text>
<text transform="translate(1438.0,1225.2) scale(1.1,1)">g</text>
</g>
</svg>
</body></html>
